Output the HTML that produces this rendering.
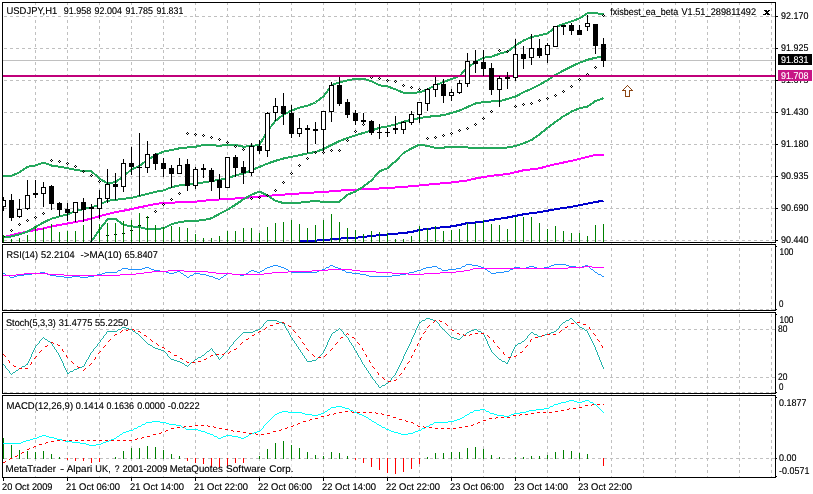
<!DOCTYPE html><html><head><meta charset="utf-8"><title>USDJPY,H1</title><style>html,body{margin:0;padding:0;background:#fff}body{width:813px;height:494px;overflow:hidden}svg{display:block}text{font-family:"Liberation Sans",sans-serif;font-size:9.75px;fill:#000}</style></head><body>
<svg width="813" height="494" viewBox="0 0 813 494">
<rect width="813" height="494" fill="#fff"/>
<g shape-rendering="crispEdges">
<path d="M35.5 3V5M35.5 8V11M35.5 14V17M35.5 20V23M35.5 26V29M35.5 32V35M35.5 38V41M35.5 44V47M35.5 50V53M35.5 56V59M35.5 62V65M35.5 68V71M35.5 74V77M35.5 80V83M35.5 86V89M35.5 92V95M35.5 98V101M35.5 104V107M35.5 110V113M35.5 116V119M35.5 122V125M35.5 128V131M35.5 134V137M35.5 140V143M35.5 146V149M35.5 152V155M35.5 158V161M35.5 164V167M35.5 170V173M35.5 176V179M35.5 182V185M35.5 188V191M35.5 194V197M35.5 200V203M35.5 206V209M35.5 212V215M35.5 218V221M35.5 224V227M35.5 230V233M35.5 236V239M35.5 242V245M35.5 248V251M35.5 254V257M35.5 260V263M35.5 266V269M35.5 272V275M35.5 278V281M35.5 284V287M35.5 290V293M35.5 296V299M35.5 302V305M35.5 308V311M35.5 314V317M35.5 320V323M35.5 326V329M35.5 332V335M35.5 338V341M35.5 344V347M35.5 350V353M35.5 356V359M35.5 362V365M35.5 368V371M35.5 374V377M35.5 380V383M35.5 386V389M35.5 392V395M35.5 398V401M35.5 404V407M35.5 410V413M35.5 416V419M35.5 422V425M35.5 428V431M35.5 434V437M35.5 440V443M35.5 446V449M35.5 452V455M35.5 458V461M35.5 464V467M35.5 470V473M35.5 476V477M67.5 3V5M67.5 8V11M67.5 14V17M67.5 20V23M67.5 26V29M67.5 32V35M67.5 38V41M67.5 44V47M67.5 50V53M67.5 56V59M67.5 62V65M67.5 68V71M67.5 74V77M67.5 80V83M67.5 86V89M67.5 92V95M67.5 98V101M67.5 104V107M67.5 110V113M67.5 116V119M67.5 122V125M67.5 128V131M67.5 134V137M67.5 140V143M67.5 146V149M67.5 152V155M67.5 158V161M67.5 164V167M67.5 170V173M67.5 176V179M67.5 182V185M67.5 188V191M67.5 194V197M67.5 200V203M67.5 206V209M67.5 212V215M67.5 218V221M67.5 224V227M67.5 230V233M67.5 236V239M67.5 242V245M67.5 248V251M67.5 254V257M67.5 260V263M67.5 266V269M67.5 272V275M67.5 278V281M67.5 284V287M67.5 290V293M67.5 296V299M67.5 302V305M67.5 308V311M67.5 314V317M67.5 320V323M67.5 326V329M67.5 332V335M67.5 338V341M67.5 344V347M67.5 350V353M67.5 356V359M67.5 362V365M67.5 368V371M67.5 374V377M67.5 380V383M67.5 386V389M67.5 392V395M67.5 398V401M67.5 404V407M67.5 410V413M67.5 416V419M67.5 422V425M67.5 428V431M67.5 434V437M67.5 440V443M67.5 446V449M67.5 452V455M67.5 458V461M67.5 464V467M67.5 470V473M67.5 476V477M99.5 3V5M99.5 8V11M99.5 14V17M99.5 20V23M99.5 26V29M99.5 32V35M99.5 38V41M99.5 44V47M99.5 50V53M99.5 56V59M99.5 62V65M99.5 68V71M99.5 74V77M99.5 80V83M99.5 86V89M99.5 92V95M99.5 98V101M99.5 104V107M99.5 110V113M99.5 116V119M99.5 122V125M99.5 128V131M99.5 134V137M99.5 140V143M99.5 146V149M99.5 152V155M99.5 158V161M99.5 164V167M99.5 170V173M99.5 176V179M99.5 182V185M99.5 188V191M99.5 194V197M99.5 200V203M99.5 206V209M99.5 212V215M99.5 218V221M99.5 224V227M99.5 230V233M99.5 236V239M99.5 242V245M99.5 248V251M99.5 254V257M99.5 260V263M99.5 266V269M99.5 272V275M99.5 278V281M99.5 284V287M99.5 290V293M99.5 296V299M99.5 302V305M99.5 308V311M99.5 314V317M99.5 320V323M99.5 326V329M99.5 332V335M99.5 338V341M99.5 344V347M99.5 350V353M99.5 356V359M99.5 362V365M99.5 368V371M99.5 374V377M99.5 380V383M99.5 386V389M99.5 392V395M99.5 398V401M99.5 404V407M99.5 410V413M99.5 416V419M99.5 422V425M99.5 428V431M99.5 434V437M99.5 440V443M99.5 446V449M99.5 452V455M99.5 458V461M99.5 464V467M99.5 470V473M99.5 476V477M131.5 3V5M131.5 8V11M131.5 14V17M131.5 20V23M131.5 26V29M131.5 32V35M131.5 38V41M131.5 44V47M131.5 50V53M131.5 56V59M131.5 62V65M131.5 68V71M131.5 74V77M131.5 80V83M131.5 86V89M131.5 92V95M131.5 98V101M131.5 104V107M131.5 110V113M131.5 116V119M131.5 122V125M131.5 128V131M131.5 134V137M131.5 140V143M131.5 146V149M131.5 152V155M131.5 158V161M131.5 164V167M131.5 170V173M131.5 176V179M131.5 182V185M131.5 188V191M131.5 194V197M131.5 200V203M131.5 206V209M131.5 212V215M131.5 218V221M131.5 224V227M131.5 230V233M131.5 236V239M131.5 242V245M131.5 248V251M131.5 254V257M131.5 260V263M131.5 266V269M131.5 272V275M131.5 278V281M131.5 284V287M131.5 290V293M131.5 296V299M131.5 302V305M131.5 308V311M131.5 314V317M131.5 320V323M131.5 326V329M131.5 332V335M131.5 338V341M131.5 344V347M131.5 350V353M131.5 356V359M131.5 362V365M131.5 368V371M131.5 374V377M131.5 380V383M131.5 386V389M131.5 392V395M131.5 398V401M131.5 404V407M131.5 410V413M131.5 416V419M131.5 422V425M131.5 428V431M131.5 434V437M131.5 440V443M131.5 446V449M131.5 452V455M131.5 458V461M131.5 464V467M131.5 470V473M131.5 476V477M163.5 3V5M163.5 8V11M163.5 14V17M163.5 20V23M163.5 26V29M163.5 32V35M163.5 38V41M163.5 44V47M163.5 50V53M163.5 56V59M163.5 62V65M163.5 68V71M163.5 74V77M163.5 80V83M163.5 86V89M163.5 92V95M163.5 98V101M163.5 104V107M163.5 110V113M163.5 116V119M163.5 122V125M163.5 128V131M163.5 134V137M163.5 140V143M163.5 146V149M163.5 152V155M163.5 158V161M163.5 164V167M163.5 170V173M163.5 176V179M163.5 182V185M163.5 188V191M163.5 194V197M163.5 200V203M163.5 206V209M163.5 212V215M163.5 218V221M163.5 224V227M163.5 230V233M163.5 236V239M163.5 242V245M163.5 248V251M163.5 254V257M163.5 260V263M163.5 266V269M163.5 272V275M163.5 278V281M163.5 284V287M163.5 290V293M163.5 296V299M163.5 302V305M163.5 308V311M163.5 314V317M163.5 320V323M163.5 326V329M163.5 332V335M163.5 338V341M163.5 344V347M163.5 350V353M163.5 356V359M163.5 362V365M163.5 368V371M163.5 374V377M163.5 380V383M163.5 386V389M163.5 392V395M163.5 398V401M163.5 404V407M163.5 410V413M163.5 416V419M163.5 422V425M163.5 428V431M163.5 434V437M163.5 440V443M163.5 446V449M163.5 452V455M163.5 458V461M163.5 464V467M163.5 470V473M163.5 476V477M195.5 3V5M195.5 8V11M195.5 14V17M195.5 20V23M195.5 26V29M195.5 32V35M195.5 38V41M195.5 44V47M195.5 50V53M195.5 56V59M195.5 62V65M195.5 68V71M195.5 74V77M195.5 80V83M195.5 86V89M195.5 92V95M195.5 98V101M195.5 104V107M195.5 110V113M195.5 116V119M195.5 122V125M195.5 128V131M195.5 134V137M195.5 140V143M195.5 146V149M195.5 152V155M195.5 158V161M195.5 164V167M195.5 170V173M195.5 176V179M195.5 182V185M195.5 188V191M195.5 194V197M195.5 200V203M195.5 206V209M195.5 212V215M195.5 218V221M195.5 224V227M195.5 230V233M195.5 236V239M195.5 242V245M195.5 248V251M195.5 254V257M195.5 260V263M195.5 266V269M195.5 272V275M195.5 278V281M195.5 284V287M195.5 290V293M195.5 296V299M195.5 302V305M195.5 308V311M195.5 314V317M195.5 320V323M195.5 326V329M195.5 332V335M195.5 338V341M195.5 344V347M195.5 350V353M195.5 356V359M195.5 362V365M195.5 368V371M195.5 374V377M195.5 380V383M195.5 386V389M195.5 392V395M195.5 398V401M195.5 404V407M195.5 410V413M195.5 416V419M195.5 422V425M195.5 428V431M195.5 434V437M195.5 440V443M195.5 446V449M195.5 452V455M195.5 458V461M195.5 464V467M195.5 470V473M195.5 476V477M227.5 3V5M227.5 8V11M227.5 14V17M227.5 20V23M227.5 26V29M227.5 32V35M227.5 38V41M227.5 44V47M227.5 50V53M227.5 56V59M227.5 62V65M227.5 68V71M227.5 74V77M227.5 80V83M227.5 86V89M227.5 92V95M227.5 98V101M227.5 104V107M227.5 110V113M227.5 116V119M227.5 122V125M227.5 128V131M227.5 134V137M227.5 140V143M227.5 146V149M227.5 152V155M227.5 158V161M227.5 164V167M227.5 170V173M227.5 176V179M227.5 182V185M227.5 188V191M227.5 194V197M227.5 200V203M227.5 206V209M227.5 212V215M227.5 218V221M227.5 224V227M227.5 230V233M227.5 236V239M227.5 242V245M227.5 248V251M227.5 254V257M227.5 260V263M227.5 266V269M227.5 272V275M227.5 278V281M227.5 284V287M227.5 290V293M227.5 296V299M227.5 302V305M227.5 308V311M227.5 314V317M227.5 320V323M227.5 326V329M227.5 332V335M227.5 338V341M227.5 344V347M227.5 350V353M227.5 356V359M227.5 362V365M227.5 368V371M227.5 374V377M227.5 380V383M227.5 386V389M227.5 392V395M227.5 398V401M227.5 404V407M227.5 410V413M227.5 416V419M227.5 422V425M227.5 428V431M227.5 434V437M227.5 440V443M227.5 446V449M227.5 452V455M227.5 458V461M227.5 464V467M227.5 470V473M227.5 476V477M259.5 3V5M259.5 8V11M259.5 14V17M259.5 20V23M259.5 26V29M259.5 32V35M259.5 38V41M259.5 44V47M259.5 50V53M259.5 56V59M259.5 62V65M259.5 68V71M259.5 74V77M259.5 80V83M259.5 86V89M259.5 92V95M259.5 98V101M259.5 104V107M259.5 110V113M259.5 116V119M259.5 122V125M259.5 128V131M259.5 134V137M259.5 140V143M259.5 146V149M259.5 152V155M259.5 158V161M259.5 164V167M259.5 170V173M259.5 176V179M259.5 182V185M259.5 188V191M259.5 194V197M259.5 200V203M259.5 206V209M259.5 212V215M259.5 218V221M259.5 224V227M259.5 230V233M259.5 236V239M259.5 242V245M259.5 248V251M259.5 254V257M259.5 260V263M259.5 266V269M259.5 272V275M259.5 278V281M259.5 284V287M259.5 290V293M259.5 296V299M259.5 302V305M259.5 308V311M259.5 314V317M259.5 320V323M259.5 326V329M259.5 332V335M259.5 338V341M259.5 344V347M259.5 350V353M259.5 356V359M259.5 362V365M259.5 368V371M259.5 374V377M259.5 380V383M259.5 386V389M259.5 392V395M259.5 398V401M259.5 404V407M259.5 410V413M259.5 416V419M259.5 422V425M259.5 428V431M259.5 434V437M259.5 440V443M259.5 446V449M259.5 452V455M259.5 458V461M259.5 464V467M259.5 470V473M259.5 476V477M291.5 3V5M291.5 8V11M291.5 14V17M291.5 20V23M291.5 26V29M291.5 32V35M291.5 38V41M291.5 44V47M291.5 50V53M291.5 56V59M291.5 62V65M291.5 68V71M291.5 74V77M291.5 80V83M291.5 86V89M291.5 92V95M291.5 98V101M291.5 104V107M291.5 110V113M291.5 116V119M291.5 122V125M291.5 128V131M291.5 134V137M291.5 140V143M291.5 146V149M291.5 152V155M291.5 158V161M291.5 164V167M291.5 170V173M291.5 176V179M291.5 182V185M291.5 188V191M291.5 194V197M291.5 200V203M291.5 206V209M291.5 212V215M291.5 218V221M291.5 224V227M291.5 230V233M291.5 236V239M291.5 242V245M291.5 248V251M291.5 254V257M291.5 260V263M291.5 266V269M291.5 272V275M291.5 278V281M291.5 284V287M291.5 290V293M291.5 296V299M291.5 302V305M291.5 308V311M291.5 314V317M291.5 320V323M291.5 326V329M291.5 332V335M291.5 338V341M291.5 344V347M291.5 350V353M291.5 356V359M291.5 362V365M291.5 368V371M291.5 374V377M291.5 380V383M291.5 386V389M291.5 392V395M291.5 398V401M291.5 404V407M291.5 410V413M291.5 416V419M291.5 422V425M291.5 428V431M291.5 434V437M291.5 440V443M291.5 446V449M291.5 452V455M291.5 458V461M291.5 464V467M291.5 470V473M291.5 476V477M323.5 3V5M323.5 8V11M323.5 14V17M323.5 20V23M323.5 26V29M323.5 32V35M323.5 38V41M323.5 44V47M323.5 50V53M323.5 56V59M323.5 62V65M323.5 68V71M323.5 74V77M323.5 80V83M323.5 86V89M323.5 92V95M323.5 98V101M323.5 104V107M323.5 110V113M323.5 116V119M323.5 122V125M323.5 128V131M323.5 134V137M323.5 140V143M323.5 146V149M323.5 152V155M323.5 158V161M323.5 164V167M323.5 170V173M323.5 176V179M323.5 182V185M323.5 188V191M323.5 194V197M323.5 200V203M323.5 206V209M323.5 212V215M323.5 218V221M323.5 224V227M323.5 230V233M323.5 236V239M323.5 242V245M323.5 248V251M323.5 254V257M323.5 260V263M323.5 266V269M323.5 272V275M323.5 278V281M323.5 284V287M323.5 290V293M323.5 296V299M323.5 302V305M323.5 308V311M323.5 314V317M323.5 320V323M323.5 326V329M323.5 332V335M323.5 338V341M323.5 344V347M323.5 350V353M323.5 356V359M323.5 362V365M323.5 368V371M323.5 374V377M323.5 380V383M323.5 386V389M323.5 392V395M323.5 398V401M323.5 404V407M323.5 410V413M323.5 416V419M323.5 422V425M323.5 428V431M323.5 434V437M323.5 440V443M323.5 446V449M323.5 452V455M323.5 458V461M323.5 464V467M323.5 470V473M323.5 476V477M355.5 3V5M355.5 8V11M355.5 14V17M355.5 20V23M355.5 26V29M355.5 32V35M355.5 38V41M355.5 44V47M355.5 50V53M355.5 56V59M355.5 62V65M355.5 68V71M355.5 74V77M355.5 80V83M355.5 86V89M355.5 92V95M355.5 98V101M355.5 104V107M355.5 110V113M355.5 116V119M355.5 122V125M355.5 128V131M355.5 134V137M355.5 140V143M355.5 146V149M355.5 152V155M355.5 158V161M355.5 164V167M355.5 170V173M355.5 176V179M355.5 182V185M355.5 188V191M355.5 194V197M355.5 200V203M355.5 206V209M355.5 212V215M355.5 218V221M355.5 224V227M355.5 230V233M355.5 236V239M355.5 242V245M355.5 248V251M355.5 254V257M355.5 260V263M355.5 266V269M355.5 272V275M355.5 278V281M355.5 284V287M355.5 290V293M355.5 296V299M355.5 302V305M355.5 308V311M355.5 314V317M355.5 320V323M355.5 326V329M355.5 332V335M355.5 338V341M355.5 344V347M355.5 350V353M355.5 356V359M355.5 362V365M355.5 368V371M355.5 374V377M355.5 380V383M355.5 386V389M355.5 392V395M355.5 398V401M355.5 404V407M355.5 410V413M355.5 416V419M355.5 422V425M355.5 428V431M355.5 434V437M355.5 440V443M355.5 446V449M355.5 452V455M355.5 458V461M355.5 464V467M355.5 470V473M355.5 476V477M387.5 3V5M387.5 8V11M387.5 14V17M387.5 20V23M387.5 26V29M387.5 32V35M387.5 38V41M387.5 44V47M387.5 50V53M387.5 56V59M387.5 62V65M387.5 68V71M387.5 74V77M387.5 80V83M387.5 86V89M387.5 92V95M387.5 98V101M387.5 104V107M387.5 110V113M387.5 116V119M387.5 122V125M387.5 128V131M387.5 134V137M387.5 140V143M387.5 146V149M387.5 152V155M387.5 158V161M387.5 164V167M387.5 170V173M387.5 176V179M387.5 182V185M387.5 188V191M387.5 194V197M387.5 200V203M387.5 206V209M387.5 212V215M387.5 218V221M387.5 224V227M387.5 230V233M387.5 236V239M387.5 242V245M387.5 248V251M387.5 254V257M387.5 260V263M387.5 266V269M387.5 272V275M387.5 278V281M387.5 284V287M387.5 290V293M387.5 296V299M387.5 302V305M387.5 308V311M387.5 314V317M387.5 320V323M387.5 326V329M387.5 332V335M387.5 338V341M387.5 344V347M387.5 350V353M387.5 356V359M387.5 362V365M387.5 368V371M387.5 374V377M387.5 380V383M387.5 386V389M387.5 392V395M387.5 398V401M387.5 404V407M387.5 410V413M387.5 416V419M387.5 422V425M387.5 428V431M387.5 434V437M387.5 440V443M387.5 446V449M387.5 452V455M387.5 458V461M387.5 464V467M387.5 470V473M387.5 476V477M419.5 3V5M419.5 8V11M419.5 14V17M419.5 20V23M419.5 26V29M419.5 32V35M419.5 38V41M419.5 44V47M419.5 50V53M419.5 56V59M419.5 62V65M419.5 68V71M419.5 74V77M419.5 80V83M419.5 86V89M419.5 92V95M419.5 98V101M419.5 104V107M419.5 110V113M419.5 116V119M419.5 122V125M419.5 128V131M419.5 134V137M419.5 140V143M419.5 146V149M419.5 152V155M419.5 158V161M419.5 164V167M419.5 170V173M419.5 176V179M419.5 182V185M419.5 188V191M419.5 194V197M419.5 200V203M419.5 206V209M419.5 212V215M419.5 218V221M419.5 224V227M419.5 230V233M419.5 236V239M419.5 242V245M419.5 248V251M419.5 254V257M419.5 260V263M419.5 266V269M419.5 272V275M419.5 278V281M419.5 284V287M419.5 290V293M419.5 296V299M419.5 302V305M419.5 308V311M419.5 314V317M419.5 320V323M419.5 326V329M419.5 332V335M419.5 338V341M419.5 344V347M419.5 350V353M419.5 356V359M419.5 362V365M419.5 368V371M419.5 374V377M419.5 380V383M419.5 386V389M419.5 392V395M419.5 398V401M419.5 404V407M419.5 410V413M419.5 416V419M419.5 422V425M419.5 428V431M419.5 434V437M419.5 440V443M419.5 446V449M419.5 452V455M419.5 458V461M419.5 464V467M419.5 470V473M419.5 476V477M451.5 3V5M451.5 8V11M451.5 14V17M451.5 20V23M451.5 26V29M451.5 32V35M451.5 38V41M451.5 44V47M451.5 50V53M451.5 56V59M451.5 62V65M451.5 68V71M451.5 74V77M451.5 80V83M451.5 86V89M451.5 92V95M451.5 98V101M451.5 104V107M451.5 110V113M451.5 116V119M451.5 122V125M451.5 128V131M451.5 134V137M451.5 140V143M451.5 146V149M451.5 152V155M451.5 158V161M451.5 164V167M451.5 170V173M451.5 176V179M451.5 182V185M451.5 188V191M451.5 194V197M451.5 200V203M451.5 206V209M451.5 212V215M451.5 218V221M451.5 224V227M451.5 230V233M451.5 236V239M451.5 242V245M451.5 248V251M451.5 254V257M451.5 260V263M451.5 266V269M451.5 272V275M451.5 278V281M451.5 284V287M451.5 290V293M451.5 296V299M451.5 302V305M451.5 308V311M451.5 314V317M451.5 320V323M451.5 326V329M451.5 332V335M451.5 338V341M451.5 344V347M451.5 350V353M451.5 356V359M451.5 362V365M451.5 368V371M451.5 374V377M451.5 380V383M451.5 386V389M451.5 392V395M451.5 398V401M451.5 404V407M451.5 410V413M451.5 416V419M451.5 422V425M451.5 428V431M451.5 434V437M451.5 440V443M451.5 446V449M451.5 452V455M451.5 458V461M451.5 464V467M451.5 470V473M451.5 476V477M483.5 3V5M483.5 8V11M483.5 14V17M483.5 20V23M483.5 26V29M483.5 32V35M483.5 38V41M483.5 44V47M483.5 50V53M483.5 56V59M483.5 62V65M483.5 68V71M483.5 74V77M483.5 80V83M483.5 86V89M483.5 92V95M483.5 98V101M483.5 104V107M483.5 110V113M483.5 116V119M483.5 122V125M483.5 128V131M483.5 134V137M483.5 140V143M483.5 146V149M483.5 152V155M483.5 158V161M483.5 164V167M483.5 170V173M483.5 176V179M483.5 182V185M483.5 188V191M483.5 194V197M483.5 200V203M483.5 206V209M483.5 212V215M483.5 218V221M483.5 224V227M483.5 230V233M483.5 236V239M483.5 242V245M483.5 248V251M483.5 254V257M483.5 260V263M483.5 266V269M483.5 272V275M483.5 278V281M483.5 284V287M483.5 290V293M483.5 296V299M483.5 302V305M483.5 308V311M483.5 314V317M483.5 320V323M483.5 326V329M483.5 332V335M483.5 338V341M483.5 344V347M483.5 350V353M483.5 356V359M483.5 362V365M483.5 368V371M483.5 374V377M483.5 380V383M483.5 386V389M483.5 392V395M483.5 398V401M483.5 404V407M483.5 410V413M483.5 416V419M483.5 422V425M483.5 428V431M483.5 434V437M483.5 440V443M483.5 446V449M483.5 452V455M483.5 458V461M483.5 464V467M483.5 470V473M483.5 476V477M515.5 3V5M515.5 8V11M515.5 14V17M515.5 20V23M515.5 26V29M515.5 32V35M515.5 38V41M515.5 44V47M515.5 50V53M515.5 56V59M515.5 62V65M515.5 68V71M515.5 74V77M515.5 80V83M515.5 86V89M515.5 92V95M515.5 98V101M515.5 104V107M515.5 110V113M515.5 116V119M515.5 122V125M515.5 128V131M515.5 134V137M515.5 140V143M515.5 146V149M515.5 152V155M515.5 158V161M515.5 164V167M515.5 170V173M515.5 176V179M515.5 182V185M515.5 188V191M515.5 194V197M515.5 200V203M515.5 206V209M515.5 212V215M515.5 218V221M515.5 224V227M515.5 230V233M515.5 236V239M515.5 242V245M515.5 248V251M515.5 254V257M515.5 260V263M515.5 266V269M515.5 272V275M515.5 278V281M515.5 284V287M515.5 290V293M515.5 296V299M515.5 302V305M515.5 308V311M515.5 314V317M515.5 320V323M515.5 326V329M515.5 332V335M515.5 338V341M515.5 344V347M515.5 350V353M515.5 356V359M515.5 362V365M515.5 368V371M515.5 374V377M515.5 380V383M515.5 386V389M515.5 392V395M515.5 398V401M515.5 404V407M515.5 410V413M515.5 416V419M515.5 422V425M515.5 428V431M515.5 434V437M515.5 440V443M515.5 446V449M515.5 452V455M515.5 458V461M515.5 464V467M515.5 470V473M515.5 476V477M547.5 3V5M547.5 8V11M547.5 14V17M547.5 20V23M547.5 26V29M547.5 32V35M547.5 38V41M547.5 44V47M547.5 50V53M547.5 56V59M547.5 62V65M547.5 68V71M547.5 74V77M547.5 80V83M547.5 86V89M547.5 92V95M547.5 98V101M547.5 104V107M547.5 110V113M547.5 116V119M547.5 122V125M547.5 128V131M547.5 134V137M547.5 140V143M547.5 146V149M547.5 152V155M547.5 158V161M547.5 164V167M547.5 170V173M547.5 176V179M547.5 182V185M547.5 188V191M547.5 194V197M547.5 200V203M547.5 206V209M547.5 212V215M547.5 218V221M547.5 224V227M547.5 230V233M547.5 236V239M547.5 242V245M547.5 248V251M547.5 254V257M547.5 260V263M547.5 266V269M547.5 272V275M547.5 278V281M547.5 284V287M547.5 290V293M547.5 296V299M547.5 302V305M547.5 308V311M547.5 314V317M547.5 320V323M547.5 326V329M547.5 332V335M547.5 338V341M547.5 344V347M547.5 350V353M547.5 356V359M547.5 362V365M547.5 368V371M547.5 374V377M547.5 380V383M547.5 386V389M547.5 392V395M547.5 398V401M547.5 404V407M547.5 410V413M547.5 416V419M547.5 422V425M547.5 428V431M547.5 434V437M547.5 440V443M547.5 446V449M547.5 452V455M547.5 458V461M547.5 464V467M547.5 470V473M547.5 476V477M579.5 3V5M579.5 8V11M579.5 14V17M579.5 20V23M579.5 26V29M579.5 32V35M579.5 38V41M579.5 44V47M579.5 50V53M579.5 56V59M579.5 62V65M579.5 68V71M579.5 74V77M579.5 80V83M579.5 86V89M579.5 92V95M579.5 98V101M579.5 104V107M579.5 110V113M579.5 116V119M579.5 122V125M579.5 128V131M579.5 134V137M579.5 140V143M579.5 146V149M579.5 152V155M579.5 158V161M579.5 164V167M579.5 170V173M579.5 176V179M579.5 182V185M579.5 188V191M579.5 194V197M579.5 200V203M579.5 206V209M579.5 212V215M579.5 218V221M579.5 224V227M579.5 230V233M579.5 236V239M579.5 242V245M579.5 248V251M579.5 254V257M579.5 260V263M579.5 266V269M579.5 272V275M579.5 278V281M579.5 284V287M579.5 290V293M579.5 296V299M579.5 302V305M579.5 308V311M579.5 314V317M579.5 320V323M579.5 326V329M579.5 332V335M579.5 338V341M579.5 344V347M579.5 350V353M579.5 356V359M579.5 362V365M579.5 368V371M579.5 374V377M579.5 380V383M579.5 386V389M579.5 392V395M579.5 398V401M579.5 404V407M579.5 410V413M579.5 416V419M579.5 422V425M579.5 428V431M579.5 434V437M579.5 440V443M579.5 446V449M579.5 452V455M579.5 458V461M579.5 464V467M579.5 470V473M579.5 476V477M611.5 3V5M611.5 8V11M611.5 14V17M611.5 20V23M611.5 26V29M611.5 32V35M611.5 38V41M611.5 44V47M611.5 50V53M611.5 56V59M611.5 62V65M611.5 68V71M611.5 74V77M611.5 80V83M611.5 86V89M611.5 92V95M611.5 98V101M611.5 104V107M611.5 110V113M611.5 116V119M611.5 122V125M611.5 128V131M611.5 134V137M611.5 140V143M611.5 146V149M611.5 152V155M611.5 158V161M611.5 164V167M611.5 170V173M611.5 176V179M611.5 182V185M611.5 188V191M611.5 194V197M611.5 200V203M611.5 206V209M611.5 212V215M611.5 218V221M611.5 224V227M611.5 230V233M611.5 236V239M611.5 242V245M611.5 248V251M611.5 254V257M611.5 260V263M611.5 266V269M611.5 272V275M611.5 278V281M611.5 284V287M611.5 290V293M611.5 296V299M611.5 302V305M611.5 308V311M611.5 314V317M611.5 320V323M611.5 326V329M611.5 332V335M611.5 338V341M611.5 344V347M611.5 350V353M611.5 356V359M611.5 362V365M611.5 368V371M611.5 374V377M611.5 380V383M611.5 386V389M611.5 392V395M611.5 398V401M611.5 404V407M611.5 410V413M611.5 416V419M611.5 422V425M611.5 428V431M611.5 434V437M611.5 440V443M611.5 446V449M611.5 452V455M611.5 458V461M611.5 464V467M611.5 470V473M611.5 476V477M643.5 3V5M643.5 8V11M643.5 14V17M643.5 20V23M643.5 26V29M643.5 32V35M643.5 38V41M643.5 44V47M643.5 50V53M643.5 56V59M643.5 62V65M643.5 68V71M643.5 74V77M643.5 80V83M643.5 86V89M643.5 92V95M643.5 98V101M643.5 104V107M643.5 110V113M643.5 116V119M643.5 122V125M643.5 128V131M643.5 134V137M643.5 140V143M643.5 146V149M643.5 152V155M643.5 158V161M643.5 164V167M643.5 170V173M643.5 176V179M643.5 182V185M643.5 188V191M643.5 194V197M643.5 200V203M643.5 206V209M643.5 212V215M643.5 218V221M643.5 224V227M643.5 230V233M643.5 236V239M643.5 242V245M643.5 248V251M643.5 254V257M643.5 260V263M643.5 266V269M643.5 272V275M643.5 278V281M643.5 284V287M643.5 290V293M643.5 296V299M643.5 302V305M643.5 308V311M643.5 314V317M643.5 320V323M643.5 326V329M643.5 332V335M643.5 338V341M643.5 344V347M643.5 350V353M643.5 356V359M643.5 362V365M643.5 368V371M643.5 374V377M643.5 380V383M643.5 386V389M643.5 392V395M643.5 398V401M643.5 404V407M643.5 410V413M643.5 416V419M643.5 422V425M643.5 428V431M643.5 434V437M643.5 440V443M643.5 446V449M643.5 452V455M643.5 458V461M643.5 464V467M643.5 470V473M643.5 476V477M675.5 3V5M675.5 8V11M675.5 14V17M675.5 20V23M675.5 26V29M675.5 32V35M675.5 38V41M675.5 44V47M675.5 50V53M675.5 56V59M675.5 62V65M675.5 68V71M675.5 74V77M675.5 80V83M675.5 86V89M675.5 92V95M675.5 98V101M675.5 104V107M675.5 110V113M675.5 116V119M675.5 122V125M675.5 128V131M675.5 134V137M675.5 140V143M675.5 146V149M675.5 152V155M675.5 158V161M675.5 164V167M675.5 170V173M675.5 176V179M675.5 182V185M675.5 188V191M675.5 194V197M675.5 200V203M675.5 206V209M675.5 212V215M675.5 218V221M675.5 224V227M675.5 230V233M675.5 236V239M675.5 242V245M675.5 248V251M675.5 254V257M675.5 260V263M675.5 266V269M675.5 272V275M675.5 278V281M675.5 284V287M675.5 290V293M675.5 296V299M675.5 302V305M675.5 308V311M675.5 314V317M675.5 320V323M675.5 326V329M675.5 332V335M675.5 338V341M675.5 344V347M675.5 350V353M675.5 356V359M675.5 362V365M675.5 368V371M675.5 374V377M675.5 380V383M675.5 386V389M675.5 392V395M675.5 398V401M675.5 404V407M675.5 410V413M675.5 416V419M675.5 422V425M675.5 428V431M675.5 434V437M675.5 440V443M675.5 446V449M675.5 452V455M675.5 458V461M675.5 464V467M675.5 470V473M675.5 476V477M707.5 3V5M707.5 8V11M707.5 14V17M707.5 20V23M707.5 26V29M707.5 32V35M707.5 38V41M707.5 44V47M707.5 50V53M707.5 56V59M707.5 62V65M707.5 68V71M707.5 74V77M707.5 80V83M707.5 86V89M707.5 92V95M707.5 98V101M707.5 104V107M707.5 110V113M707.5 116V119M707.5 122V125M707.5 128V131M707.5 134V137M707.5 140V143M707.5 146V149M707.5 152V155M707.5 158V161M707.5 164V167M707.5 170V173M707.5 176V179M707.5 182V185M707.5 188V191M707.5 194V197M707.5 200V203M707.5 206V209M707.5 212V215M707.5 218V221M707.5 224V227M707.5 230V233M707.5 236V239M707.5 242V245M707.5 248V251M707.5 254V257M707.5 260V263M707.5 266V269M707.5 272V275M707.5 278V281M707.5 284V287M707.5 290V293M707.5 296V299M707.5 302V305M707.5 308V311M707.5 314V317M707.5 320V323M707.5 326V329M707.5 332V335M707.5 338V341M707.5 344V347M707.5 350V353M707.5 356V359M707.5 362V365M707.5 368V371M707.5 374V377M707.5 380V383M707.5 386V389M707.5 392V395M707.5 398V401M707.5 404V407M707.5 410V413M707.5 416V419M707.5 422V425M707.5 428V431M707.5 434V437M707.5 440V443M707.5 446V449M707.5 452V455M707.5 458V461M707.5 464V467M707.5 470V473M707.5 476V477M739.5 3V5M739.5 8V11M739.5 14V17M739.5 20V23M739.5 26V29M739.5 32V35M739.5 38V41M739.5 44V47M739.5 50V53M739.5 56V59M739.5 62V65M739.5 68V71M739.5 74V77M739.5 80V83M739.5 86V89M739.5 92V95M739.5 98V101M739.5 104V107M739.5 110V113M739.5 116V119M739.5 122V125M739.5 128V131M739.5 134V137M739.5 140V143M739.5 146V149M739.5 152V155M739.5 158V161M739.5 164V167M739.5 170V173M739.5 176V179M739.5 182V185M739.5 188V191M739.5 194V197M739.5 200V203M739.5 206V209M739.5 212V215M739.5 218V221M739.5 224V227M739.5 230V233M739.5 236V239M739.5 242V245M739.5 248V251M739.5 254V257M739.5 260V263M739.5 266V269M739.5 272V275M739.5 278V281M739.5 284V287M739.5 290V293M739.5 296V299M739.5 302V305M739.5 308V311M739.5 314V317M739.5 320V323M739.5 326V329M739.5 332V335M739.5 338V341M739.5 344V347M739.5 350V353M739.5 356V359M739.5 362V365M739.5 368V371M739.5 374V377M739.5 380V383M739.5 386V389M739.5 392V395M739.5 398V401M739.5 404V407M739.5 410V413M739.5 416V419M739.5 422V425M739.5 428V431M739.5 434V437M739.5 440V443M739.5 446V449M739.5 452V455M739.5 458V461M739.5 464V467M739.5 470V473M739.5 476V477M771.5 3V5M771.5 8V11M771.5 14V17M771.5 20V23M771.5 26V29M771.5 32V35M771.5 38V41M771.5 44V47M771.5 50V53M771.5 56V59M771.5 62V65M771.5 68V71M771.5 74V77M771.5 80V83M771.5 86V89M771.5 92V95M771.5 98V101M771.5 104V107M771.5 110V113M771.5 116V119M771.5 122V125M771.5 128V131M771.5 134V137M771.5 140V143M771.5 146V149M771.5 152V155M771.5 158V161M771.5 164V167M771.5 170V173M771.5 176V179M771.5 182V185M771.5 188V191M771.5 194V197M771.5 200V203M771.5 206V209M771.5 212V215M771.5 218V221M771.5 224V227M771.5 230V233M771.5 236V239M771.5 242V245M771.5 248V251M771.5 254V257M771.5 260V263M771.5 266V269M771.5 272V275M771.5 278V281M771.5 284V287M771.5 290V293M771.5 296V299M771.5 302V305M771.5 308V311M771.5 314V317M771.5 320V323M771.5 326V329M771.5 332V335M771.5 338V341M771.5 344V347M771.5 350V353M771.5 356V359M771.5 362V365M771.5 368V371M771.5 374V377M771.5 380V383M771.5 386V389M771.5 392V395M771.5 398V401M771.5 404V407M771.5 410V413M771.5 416V419M771.5 422V425M771.5 428V431M771.5 434V437M771.5 440V443M771.5 446V449M771.5 452V455M771.5 458V461M771.5 464V467M771.5 470V473M771.5 476V477M4 16.5H7M10 16.5H13M16 16.5H19M22 16.5H25M28 16.5H31M34 16.5H37M40 16.5H43M46 16.5H49M52 16.5H55M58 16.5H61M64 16.5H67M70 16.5H73M76 16.5H79M82 16.5H85M88 16.5H91M94 16.5H97M100 16.5H103M106 16.5H109M112 16.5H115M118 16.5H121M124 16.5H127M130 16.5H133M136 16.5H139M142 16.5H145M148 16.5H151M154 16.5H157M160 16.5H163M166 16.5H169M172 16.5H175M178 16.5H181M184 16.5H187M190 16.5H193M196 16.5H199M202 16.5H205M208 16.5H211M214 16.5H217M220 16.5H223M226 16.5H229M232 16.5H235M238 16.5H241M244 16.5H247M250 16.5H253M256 16.5H259M262 16.5H265M268 16.5H271M274 16.5H277M280 16.5H283M286 16.5H289M292 16.5H295M298 16.5H301M304 16.5H307M310 16.5H313M316 16.5H319M322 16.5H325M328 16.5H331M334 16.5H337M340 16.5H343M346 16.5H349M352 16.5H355M358 16.5H361M364 16.5H367M370 16.5H373M376 16.5H379M382 16.5H385M388 16.5H391M394 16.5H397M400 16.5H403M406 16.5H409M412 16.5H415M418 16.5H421M424 16.5H427M430 16.5H433M436 16.5H439M442 16.5H445M448 16.5H451M454 16.5H457M460 16.5H463M466 16.5H469M472 16.5H475M478 16.5H481M484 16.5H487M490 16.5H493M496 16.5H499M502 16.5H505M508 16.5H511M514 16.5H517M520 16.5H523M526 16.5H529M532 16.5H535M538 16.5H541M544 16.5H547M550 16.5H553M556 16.5H559M562 16.5H565M568 16.5H571M574 16.5H577M580 16.5H583M586 16.5H589M592 16.5H595M598 16.5H601M604 16.5H607M610 16.5H613M616 16.5H619M622 16.5H625M628 16.5H631M634 16.5H637M640 16.5H643M646 16.5H649M652 16.5H655M658 16.5H661M664 16.5H667M670 16.5H673M676 16.5H679M682 16.5H685M688 16.5H691M694 16.5H697M700 16.5H703M706 16.5H709M712 16.5H715M718 16.5H721M724 16.5H727M730 16.5H733M736 16.5H739M742 16.5H745M748 16.5H751M754 16.5H757M760 16.5H763M766 16.5H769M772 16.5H775M4 48.5H7M10 48.5H13M16 48.5H19M22 48.5H25M28 48.5H31M34 48.5H37M40 48.5H43M46 48.5H49M52 48.5H55M58 48.5H61M64 48.5H67M70 48.5H73M76 48.5H79M82 48.5H85M88 48.5H91M94 48.5H97M100 48.5H103M106 48.5H109M112 48.5H115M118 48.5H121M124 48.5H127M130 48.5H133M136 48.5H139M142 48.5H145M148 48.5H151M154 48.5H157M160 48.5H163M166 48.5H169M172 48.5H175M178 48.5H181M184 48.5H187M190 48.5H193M196 48.5H199M202 48.5H205M208 48.5H211M214 48.5H217M220 48.5H223M226 48.5H229M232 48.5H235M238 48.5H241M244 48.5H247M250 48.5H253M256 48.5H259M262 48.5H265M268 48.5H271M274 48.5H277M280 48.5H283M286 48.5H289M292 48.5H295M298 48.5H301M304 48.5H307M310 48.5H313M316 48.5H319M322 48.5H325M328 48.5H331M334 48.5H337M340 48.5H343M346 48.5H349M352 48.5H355M358 48.5H361M364 48.5H367M370 48.5H373M376 48.5H379M382 48.5H385M388 48.5H391M394 48.5H397M400 48.5H403M406 48.5H409M412 48.5H415M418 48.5H421M424 48.5H427M430 48.5H433M436 48.5H439M442 48.5H445M448 48.5H451M454 48.5H457M460 48.5H463M466 48.5H469M472 48.5H475M478 48.5H481M484 48.5H487M490 48.5H493M496 48.5H499M502 48.5H505M508 48.5H511M514 48.5H517M520 48.5H523M526 48.5H529M532 48.5H535M538 48.5H541M544 48.5H547M550 48.5H553M556 48.5H559M562 48.5H565M568 48.5H571M574 48.5H577M580 48.5H583M586 48.5H589M592 48.5H595M598 48.5H601M604 48.5H607M610 48.5H613M616 48.5H619M622 48.5H625M628 48.5H631M634 48.5H637M640 48.5H643M646 48.5H649M652 48.5H655M658 48.5H661M664 48.5H667M670 48.5H673M676 48.5H679M682 48.5H685M688 48.5H691M694 48.5H697M700 48.5H703M706 48.5H709M712 48.5H715M718 48.5H721M724 48.5H727M730 48.5H733M736 48.5H739M742 48.5H745M748 48.5H751M754 48.5H757M760 48.5H763M766 48.5H769M772 48.5H775M4 80.5H7M10 80.5H13M16 80.5H19M22 80.5H25M28 80.5H31M34 80.5H37M40 80.5H43M46 80.5H49M52 80.5H55M58 80.5H61M64 80.5H67M70 80.5H73M76 80.5H79M82 80.5H85M88 80.5H91M94 80.5H97M100 80.5H103M106 80.5H109M112 80.5H115M118 80.5H121M124 80.5H127M130 80.5H133M136 80.5H139M142 80.5H145M148 80.5H151M154 80.5H157M160 80.5H163M166 80.5H169M172 80.5H175M178 80.5H181M184 80.5H187M190 80.5H193M196 80.5H199M202 80.5H205M208 80.5H211M214 80.5H217M220 80.5H223M226 80.5H229M232 80.5H235M238 80.5H241M244 80.5H247M250 80.5H253M256 80.5H259M262 80.5H265M268 80.5H271M274 80.5H277M280 80.5H283M286 80.5H289M292 80.5H295M298 80.5H301M304 80.5H307M310 80.5H313M316 80.5H319M322 80.5H325M328 80.5H331M334 80.5H337M340 80.5H343M346 80.5H349M352 80.5H355M358 80.5H361M364 80.5H367M370 80.5H373M376 80.5H379M382 80.5H385M388 80.5H391M394 80.5H397M400 80.5H403M406 80.5H409M412 80.5H415M418 80.5H421M424 80.5H427M430 80.5H433M436 80.5H439M442 80.5H445M448 80.5H451M454 80.5H457M460 80.5H463M466 80.5H469M472 80.5H475M478 80.5H481M484 80.5H487M490 80.5H493M496 80.5H499M502 80.5H505M508 80.5H511M514 80.5H517M520 80.5H523M526 80.5H529M532 80.5H535M538 80.5H541M544 80.5H547M550 80.5H553M556 80.5H559M562 80.5H565M568 80.5H571M574 80.5H577M580 80.5H583M586 80.5H589M592 80.5H595M598 80.5H601M604 80.5H607M610 80.5H613M616 80.5H619M622 80.5H625M628 80.5H631M634 80.5H637M640 80.5H643M646 80.5H649M652 80.5H655M658 80.5H661M664 80.5H667M670 80.5H673M676 80.5H679M682 80.5H685M688 80.5H691M694 80.5H697M700 80.5H703M706 80.5H709M712 80.5H715M718 80.5H721M724 80.5H727M730 80.5H733M736 80.5H739M742 80.5H745M748 80.5H751M754 80.5H757M760 80.5H763M766 80.5H769M772 80.5H775M4 112.5H7M10 112.5H13M16 112.5H19M22 112.5H25M28 112.5H31M34 112.5H37M40 112.5H43M46 112.5H49M52 112.5H55M58 112.5H61M64 112.5H67M70 112.5H73M76 112.5H79M82 112.5H85M88 112.5H91M94 112.5H97M100 112.5H103M106 112.5H109M112 112.5H115M118 112.5H121M124 112.5H127M130 112.5H133M136 112.5H139M142 112.5H145M148 112.5H151M154 112.5H157M160 112.5H163M166 112.5H169M172 112.5H175M178 112.5H181M184 112.5H187M190 112.5H193M196 112.5H199M202 112.5H205M208 112.5H211M214 112.5H217M220 112.5H223M226 112.5H229M232 112.5H235M238 112.5H241M244 112.5H247M250 112.5H253M256 112.5H259M262 112.5H265M268 112.5H271M274 112.5H277M280 112.5H283M286 112.5H289M292 112.5H295M298 112.5H301M304 112.5H307M310 112.5H313M316 112.5H319M322 112.5H325M328 112.5H331M334 112.5H337M340 112.5H343M346 112.5H349M352 112.5H355M358 112.5H361M364 112.5H367M370 112.5H373M376 112.5H379M382 112.5H385M388 112.5H391M394 112.5H397M400 112.5H403M406 112.5H409M412 112.5H415M418 112.5H421M424 112.5H427M430 112.5H433M436 112.5H439M442 112.5H445M448 112.5H451M454 112.5H457M460 112.5H463M466 112.5H469M472 112.5H475M478 112.5H481M484 112.5H487M490 112.5H493M496 112.5H499M502 112.5H505M508 112.5H511M514 112.5H517M520 112.5H523M526 112.5H529M532 112.5H535M538 112.5H541M544 112.5H547M550 112.5H553M556 112.5H559M562 112.5H565M568 112.5H571M574 112.5H577M580 112.5H583M586 112.5H589M592 112.5H595M598 112.5H601M604 112.5H607M610 112.5H613M616 112.5H619M622 112.5H625M628 112.5H631M634 112.5H637M640 112.5H643M646 112.5H649M652 112.5H655M658 112.5H661M664 112.5H667M670 112.5H673M676 112.5H679M682 112.5H685M688 112.5H691M694 112.5H697M700 112.5H703M706 112.5H709M712 112.5H715M718 112.5H721M724 112.5H727M730 112.5H733M736 112.5H739M742 112.5H745M748 112.5H751M754 112.5H757M760 112.5H763M766 112.5H769M772 112.5H775M4 144.5H7M10 144.5H13M16 144.5H19M22 144.5H25M28 144.5H31M34 144.5H37M40 144.5H43M46 144.5H49M52 144.5H55M58 144.5H61M64 144.5H67M70 144.5H73M76 144.5H79M82 144.5H85M88 144.5H91M94 144.5H97M100 144.5H103M106 144.5H109M112 144.5H115M118 144.5H121M124 144.5H127M130 144.5H133M136 144.5H139M142 144.5H145M148 144.5H151M154 144.5H157M160 144.5H163M166 144.5H169M172 144.5H175M178 144.5H181M184 144.5H187M190 144.5H193M196 144.5H199M202 144.5H205M208 144.5H211M214 144.5H217M220 144.5H223M226 144.5H229M232 144.5H235M238 144.5H241M244 144.5H247M250 144.5H253M256 144.5H259M262 144.5H265M268 144.5H271M274 144.5H277M280 144.5H283M286 144.5H289M292 144.5H295M298 144.5H301M304 144.5H307M310 144.5H313M316 144.5H319M322 144.5H325M328 144.5H331M334 144.5H337M340 144.5H343M346 144.5H349M352 144.5H355M358 144.5H361M364 144.5H367M370 144.5H373M376 144.5H379M382 144.5H385M388 144.5H391M394 144.5H397M400 144.5H403M406 144.5H409M412 144.5H415M418 144.5H421M424 144.5H427M430 144.5H433M436 144.5H439M442 144.5H445M448 144.5H451M454 144.5H457M460 144.5H463M466 144.5H469M472 144.5H475M478 144.5H481M484 144.5H487M490 144.5H493M496 144.5H499M502 144.5H505M508 144.5H511M514 144.5H517M520 144.5H523M526 144.5H529M532 144.5H535M538 144.5H541M544 144.5H547M550 144.5H553M556 144.5H559M562 144.5H565M568 144.5H571M574 144.5H577M580 144.5H583M586 144.5H589M592 144.5H595M598 144.5H601M604 144.5H607M610 144.5H613M616 144.5H619M622 144.5H625M628 144.5H631M634 144.5H637M640 144.5H643M646 144.5H649M652 144.5H655M658 144.5H661M664 144.5H667M670 144.5H673M676 144.5H679M682 144.5H685M688 144.5H691M694 144.5H697M700 144.5H703M706 144.5H709M712 144.5H715M718 144.5H721M724 144.5H727M730 144.5H733M736 144.5H739M742 144.5H745M748 144.5H751M754 144.5H757M760 144.5H763M766 144.5H769M772 144.5H775M4 176.5H7M10 176.5H13M16 176.5H19M22 176.5H25M28 176.5H31M34 176.5H37M40 176.5H43M46 176.5H49M52 176.5H55M58 176.5H61M64 176.5H67M70 176.5H73M76 176.5H79M82 176.5H85M88 176.5H91M94 176.5H97M100 176.5H103M106 176.5H109M112 176.5H115M118 176.5H121M124 176.5H127M130 176.5H133M136 176.5H139M142 176.5H145M148 176.5H151M154 176.5H157M160 176.5H163M166 176.5H169M172 176.5H175M178 176.5H181M184 176.5H187M190 176.5H193M196 176.5H199M202 176.5H205M208 176.5H211M214 176.5H217M220 176.5H223M226 176.5H229M232 176.5H235M238 176.5H241M244 176.5H247M250 176.5H253M256 176.5H259M262 176.5H265M268 176.5H271M274 176.5H277M280 176.5H283M286 176.5H289M292 176.5H295M298 176.5H301M304 176.5H307M310 176.5H313M316 176.5H319M322 176.5H325M328 176.5H331M334 176.5H337M340 176.5H343M346 176.5H349M352 176.5H355M358 176.5H361M364 176.5H367M370 176.5H373M376 176.5H379M382 176.5H385M388 176.5H391M394 176.5H397M400 176.5H403M406 176.5H409M412 176.5H415M418 176.5H421M424 176.5H427M430 176.5H433M436 176.5H439M442 176.5H445M448 176.5H451M454 176.5H457M460 176.5H463M466 176.5H469M472 176.5H475M478 176.5H481M484 176.5H487M490 176.5H493M496 176.5H499M502 176.5H505M508 176.5H511M514 176.5H517M520 176.5H523M526 176.5H529M532 176.5H535M538 176.5H541M544 176.5H547M550 176.5H553M556 176.5H559M562 176.5H565M568 176.5H571M574 176.5H577M580 176.5H583M586 176.5H589M592 176.5H595M598 176.5H601M604 176.5H607M610 176.5H613M616 176.5H619M622 176.5H625M628 176.5H631M634 176.5H637M640 176.5H643M646 176.5H649M652 176.5H655M658 176.5H661M664 176.5H667M670 176.5H673M676 176.5H679M682 176.5H685M688 176.5H691M694 176.5H697M700 176.5H703M706 176.5H709M712 176.5H715M718 176.5H721M724 176.5H727M730 176.5H733M736 176.5H739M742 176.5H745M748 176.5H751M754 176.5H757M760 176.5H763M766 176.5H769M772 176.5H775M4 208.5H7M10 208.5H13M16 208.5H19M22 208.5H25M28 208.5H31M34 208.5H37M40 208.5H43M46 208.5H49M52 208.5H55M58 208.5H61M64 208.5H67M70 208.5H73M76 208.5H79M82 208.5H85M88 208.5H91M94 208.5H97M100 208.5H103M106 208.5H109M112 208.5H115M118 208.5H121M124 208.5H127M130 208.5H133M136 208.5H139M142 208.5H145M148 208.5H151M154 208.5H157M160 208.5H163M166 208.5H169M172 208.5H175M178 208.5H181M184 208.5H187M190 208.5H193M196 208.5H199M202 208.5H205M208 208.5H211M214 208.5H217M220 208.5H223M226 208.5H229M232 208.5H235M238 208.5H241M244 208.5H247M250 208.5H253M256 208.5H259M262 208.5H265M268 208.5H271M274 208.5H277M280 208.5H283M286 208.5H289M292 208.5H295M298 208.5H301M304 208.5H307M310 208.5H313M316 208.5H319M322 208.5H325M328 208.5H331M334 208.5H337M340 208.5H343M346 208.5H349M352 208.5H355M358 208.5H361M364 208.5H367M370 208.5H373M376 208.5H379M382 208.5H385M388 208.5H391M394 208.5H397M400 208.5H403M406 208.5H409M412 208.5H415M418 208.5H421M424 208.5H427M430 208.5H433M436 208.5H439M442 208.5H445M448 208.5H451M454 208.5H457M460 208.5H463M466 208.5H469M472 208.5H475M478 208.5H481M484 208.5H487M490 208.5H493M496 208.5H499M502 208.5H505M508 208.5H511M514 208.5H517M520 208.5H523M526 208.5H529M532 208.5H535M538 208.5H541M544 208.5H547M550 208.5H553M556 208.5H559M562 208.5H565M568 208.5H571M574 208.5H577M580 208.5H583M586 208.5H589M592 208.5H595M598 208.5H601M604 208.5H607M610 208.5H613M616 208.5H619M622 208.5H625M628 208.5H631M634 208.5H637M640 208.5H643M646 208.5H649M652 208.5H655M658 208.5H661M664 208.5H667M670 208.5H673M676 208.5H679M682 208.5H685M688 208.5H691M694 208.5H697M700 208.5H703M706 208.5H709M712 208.5H715M718 208.5H721M724 208.5H727M730 208.5H733M736 208.5H739M742 208.5H745M748 208.5H751M754 208.5H757M760 208.5H763M766 208.5H769M772 208.5H775M4 240.5H7M10 240.5H13M16 240.5H19M22 240.5H25M28 240.5H31M34 240.5H37M40 240.5H43M46 240.5H49M52 240.5H55M58 240.5H61M64 240.5H67M70 240.5H73M76 240.5H79M82 240.5H85M88 240.5H91M94 240.5H97M100 240.5H103M106 240.5H109M112 240.5H115M118 240.5H121M124 240.5H127M130 240.5H133M136 240.5H139M142 240.5H145M148 240.5H151M154 240.5H157M160 240.5H163M166 240.5H169M172 240.5H175M178 240.5H181M184 240.5H187M190 240.5H193M196 240.5H199M202 240.5H205M208 240.5H211M214 240.5H217M220 240.5H223M226 240.5H229M232 240.5H235M238 240.5H241M244 240.5H247M250 240.5H253M256 240.5H259M262 240.5H265M268 240.5H271M274 240.5H277M280 240.5H283M286 240.5H289M292 240.5H295M298 240.5H301M304 240.5H307M310 240.5H313M316 240.5H319M322 240.5H325M328 240.5H331M334 240.5H337M340 240.5H343M346 240.5H349M352 240.5H355M358 240.5H361M364 240.5H367M370 240.5H373M376 240.5H379M382 240.5H385M388 240.5H391M394 240.5H397M400 240.5H403M406 240.5H409M412 240.5H415M418 240.5H421M424 240.5H427M430 240.5H433M436 240.5H439M442 240.5H445M448 240.5H451M454 240.5H457M460 240.5H463M466 240.5H469M472 240.5H475M478 240.5H481M484 240.5H487M490 240.5H493M496 240.5H499M502 240.5H505M508 240.5H511M514 240.5H517M520 240.5H523M526 240.5H529M532 240.5H535M538 240.5H541M544 240.5H547M550 240.5H553M556 240.5H559M562 240.5H565M568 240.5H571M574 240.5H577M580 240.5H583M586 240.5H589M592 240.5H595M598 240.5H601M604 240.5H607M610 240.5H613M616 240.5H619M622 240.5H625M628 240.5H631M634 240.5H637M640 240.5H643M646 240.5H649M652 240.5H655M658 240.5H661M664 240.5H667M670 240.5H673M676 240.5H679M682 240.5H685M688 240.5H691M694 240.5H697M700 240.5H703M706 240.5H709M712 240.5H715M718 240.5H721M724 240.5H727M730 240.5H733M736 240.5H739M742 240.5H745M748 240.5H751M754 240.5H757M760 240.5H763M766 240.5H769M772 240.5H775M4 309.5H7M10 309.5H13M16 309.5H19M22 309.5H25M28 309.5H31M34 309.5H37M40 309.5H43M46 309.5H49M52 309.5H55M58 309.5H61M64 309.5H67M70 309.5H73M76 309.5H79M82 309.5H85M88 309.5H91M94 309.5H97M100 309.5H103M106 309.5H109M112 309.5H115M118 309.5H121M124 309.5H127M130 309.5H133M136 309.5H139M142 309.5H145M148 309.5H151M154 309.5H157M160 309.5H163M166 309.5H169M172 309.5H175M178 309.5H181M184 309.5H187M190 309.5H193M196 309.5H199M202 309.5H205M208 309.5H211M214 309.5H217M220 309.5H223M226 309.5H229M232 309.5H235M238 309.5H241M244 309.5H247M250 309.5H253M256 309.5H259M262 309.5H265M268 309.5H271M274 309.5H277M280 309.5H283M286 309.5H289M292 309.5H295M298 309.5H301M304 309.5H307M310 309.5H313M316 309.5H319M322 309.5H325M328 309.5H331M334 309.5H337M340 309.5H343M346 309.5H349M352 309.5H355M358 309.5H361M364 309.5H367M370 309.5H373M376 309.5H379M382 309.5H385M388 309.5H391M394 309.5H397M400 309.5H403M406 309.5H409M412 309.5H415M418 309.5H421M424 309.5H427M430 309.5H433M436 309.5H439M442 309.5H445M448 309.5H451M454 309.5H457M460 309.5H463M466 309.5H469M472 309.5H475M478 309.5H481M484 309.5H487M490 309.5H493M496 309.5H499M502 309.5H505M508 309.5H511M514 309.5H517M520 309.5H523M526 309.5H529M532 309.5H535M538 309.5H541M544 309.5H547M550 309.5H553M556 309.5H559M562 309.5H565M568 309.5H571M574 309.5H577M580 309.5H583M586 309.5H589M592 309.5H595M598 309.5H601M604 309.5H607M610 309.5H613M616 309.5H619M622 309.5H625M628 309.5H631M634 309.5H637M640 309.5H643M646 309.5H649M652 309.5H655M658 309.5H661M664 309.5H667M670 309.5H673M676 309.5H679M682 309.5H685M688 309.5H691M694 309.5H697M700 309.5H703M706 309.5H709M712 309.5H715M718 309.5H721M724 309.5H727M730 309.5H733M736 309.5H739M742 309.5H745M748 309.5H751M754 309.5H757M760 309.5H763M766 309.5H769M772 309.5H775M4 329.5H7M10 329.5H13M16 329.5H19M22 329.5H25M28 329.5H31M34 329.5H37M40 329.5H43M46 329.5H49M52 329.5H55M58 329.5H61M64 329.5H67M70 329.5H73M76 329.5H79M82 329.5H85M88 329.5H91M94 329.5H97M100 329.5H103M106 329.5H109M112 329.5H115M118 329.5H121M124 329.5H127M130 329.5H133M136 329.5H139M142 329.5H145M148 329.5H151M154 329.5H157M160 329.5H163M166 329.5H169M172 329.5H175M178 329.5H181M184 329.5H187M190 329.5H193M196 329.5H199M202 329.5H205M208 329.5H211M214 329.5H217M220 329.5H223M226 329.5H229M232 329.5H235M238 329.5H241M244 329.5H247M250 329.5H253M256 329.5H259M262 329.5H265M268 329.5H271M274 329.5H277M280 329.5H283M286 329.5H289M292 329.5H295M298 329.5H301M304 329.5H307M310 329.5H313M316 329.5H319M322 329.5H325M328 329.5H331M334 329.5H337M340 329.5H343M346 329.5H349M352 329.5H355M358 329.5H361M364 329.5H367M370 329.5H373M376 329.5H379M382 329.5H385M388 329.5H391M394 329.5H397M400 329.5H403M406 329.5H409M412 329.5H415M418 329.5H421M424 329.5H427M430 329.5H433M436 329.5H439M442 329.5H445M448 329.5H451M454 329.5H457M460 329.5H463M466 329.5H469M472 329.5H475M478 329.5H481M484 329.5H487M490 329.5H493M496 329.5H499M502 329.5H505M508 329.5H511M514 329.5H517M520 329.5H523M526 329.5H529M532 329.5H535M538 329.5H541M544 329.5H547M550 329.5H553M556 329.5H559M562 329.5H565M568 329.5H571M574 329.5H577M580 329.5H583M586 329.5H589M592 329.5H595M598 329.5H601M604 329.5H607M610 329.5H613M616 329.5H619M622 329.5H625M628 329.5H631M634 329.5H637M640 329.5H643M646 329.5H649M652 329.5H655M658 329.5H661M664 329.5H667M670 329.5H673M676 329.5H679M682 329.5H685M688 329.5H691M694 329.5H697M700 329.5H703M706 329.5H709M712 329.5H715M718 329.5H721M724 329.5H727M730 329.5H733M736 329.5H739M742 329.5H745M748 329.5H751M754 329.5H757M760 329.5H763M766 329.5H769M772 329.5H775M4 377.5H7M10 377.5H13M16 377.5H19M22 377.5H25M28 377.5H31M34 377.5H37M40 377.5H43M46 377.5H49M52 377.5H55M58 377.5H61M64 377.5H67M70 377.5H73M76 377.5H79M82 377.5H85M88 377.5H91M94 377.5H97M100 377.5H103M106 377.5H109M112 377.5H115M118 377.5H121M124 377.5H127M130 377.5H133M136 377.5H139M142 377.5H145M148 377.5H151M154 377.5H157M160 377.5H163M166 377.5H169M172 377.5H175M178 377.5H181M184 377.5H187M190 377.5H193M196 377.5H199M202 377.5H205M208 377.5H211M214 377.5H217M220 377.5H223M226 377.5H229M232 377.5H235M238 377.5H241M244 377.5H247M250 377.5H253M256 377.5H259M262 377.5H265M268 377.5H271M274 377.5H277M280 377.5H283M286 377.5H289M292 377.5H295M298 377.5H301M304 377.5H307M310 377.5H313M316 377.5H319M322 377.5H325M328 377.5H331M334 377.5H337M340 377.5H343M346 377.5H349M352 377.5H355M358 377.5H361M364 377.5H367M370 377.5H373M376 377.5H379M382 377.5H385M388 377.5H391M394 377.5H397M400 377.5H403M406 377.5H409M412 377.5H415M418 377.5H421M424 377.5H427M430 377.5H433M436 377.5H439M442 377.5H445M448 377.5H451M454 377.5H457M460 377.5H463M466 377.5H469M472 377.5H475M478 377.5H481M484 377.5H487M490 377.5H493M496 377.5H499M502 377.5H505M508 377.5H511M514 377.5H517M520 377.5H523M526 377.5H529M532 377.5H535M538 377.5H541M544 377.5H547M550 377.5H553M556 377.5H559M562 377.5H565M568 377.5H571M574 377.5H577M580 377.5H583M586 377.5H589M592 377.5H595M598 377.5H601M604 377.5H607M610 377.5H613M616 377.5H619M622 377.5H625M628 377.5H631M634 377.5H637M640 377.5H643M646 377.5H649M652 377.5H655M658 377.5H661M664 377.5H667M670 377.5H673M676 377.5H679M682 377.5H685M688 377.5H691M694 377.5H697M700 377.5H703M706 377.5H709M712 377.5H715M718 377.5H721M724 377.5H727M730 377.5H733M736 377.5H739M742 377.5H745M748 377.5H751M754 377.5H757M760 377.5H763M766 377.5H769M772 377.5H775M4 392.5H7M10 392.5H13M16 392.5H19M22 392.5H25M28 392.5H31M34 392.5H37M40 392.5H43M46 392.5H49M52 392.5H55M58 392.5H61M64 392.5H67M70 392.5H73M76 392.5H79M82 392.5H85M88 392.5H91M94 392.5H97M100 392.5H103M106 392.5H109M112 392.5H115M118 392.5H121M124 392.5H127M130 392.5H133M136 392.5H139M142 392.5H145M148 392.5H151M154 392.5H157M160 392.5H163M166 392.5H169M172 392.5H175M178 392.5H181M184 392.5H187M190 392.5H193M196 392.5H199M202 392.5H205M208 392.5H211M214 392.5H217M220 392.5H223M226 392.5H229M232 392.5H235M238 392.5H241M244 392.5H247M250 392.5H253M256 392.5H259M262 392.5H265M268 392.5H271M274 392.5H277M280 392.5H283M286 392.5H289M292 392.5H295M298 392.5H301M304 392.5H307M310 392.5H313M316 392.5H319M322 392.5H325M328 392.5H331M334 392.5H337M340 392.5H343M346 392.5H349M352 392.5H355M358 392.5H361M364 392.5H367M370 392.5H373M376 392.5H379M382 392.5H385M388 392.5H391M394 392.5H397M400 392.5H403M406 392.5H409M412 392.5H415M418 392.5H421M424 392.5H427M430 392.5H433M436 392.5H439M442 392.5H445M448 392.5H451M454 392.5H457M460 392.5H463M466 392.5H469M472 392.5H475M478 392.5H481M484 392.5H487M490 392.5H493M496 392.5H499M502 392.5H505M508 392.5H511M514 392.5H517M520 392.5H523M526 392.5H529M532 392.5H535M538 392.5H541M544 392.5H547M550 392.5H553M556 392.5H559M562 392.5H565M568 392.5H571M574 392.5H577M580 392.5H583M586 392.5H589M592 392.5H595M598 392.5H601M604 392.5H607M610 392.5H613M616 392.5H619M622 392.5H625M628 392.5H631M634 392.5H637M640 392.5H643M646 392.5H649M652 392.5H655M658 392.5H661M664 392.5H667M670 392.5H673M676 392.5H679M682 392.5H685M688 392.5H691M694 392.5H697M700 392.5H703M706 392.5H709M712 392.5H715M718 392.5H721M724 392.5H727M730 392.5H733M736 392.5H739M742 392.5H745M748 392.5H751M754 392.5H757M760 392.5H763M766 392.5H769M772 392.5H775M4 458.5H7M10 458.5H13M16 458.5H19M22 458.5H25M28 458.5H31M34 458.5H37M40 458.5H43M46 458.5H49M52 458.5H55M58 458.5H61M64 458.5H67M70 458.5H73M76 458.5H79M82 458.5H85M88 458.5H91M94 458.5H97M100 458.5H103M106 458.5H109M112 458.5H115M118 458.5H121M124 458.5H127M130 458.5H133M136 458.5H139M142 458.5H145M148 458.5H151M154 458.5H157M160 458.5H163M166 458.5H169M172 458.5H175M178 458.5H181M184 458.5H187M190 458.5H193M196 458.5H199M202 458.5H205M208 458.5H211M214 458.5H217M220 458.5H223M226 458.5H229M232 458.5H235M238 458.5H241M244 458.5H247M250 458.5H253M256 458.5H259M262 458.5H265M268 458.5H271M274 458.5H277M280 458.5H283M286 458.5H289M292 458.5H295M298 458.5H301M304 458.5H307M310 458.5H313M316 458.5H319M322 458.5H325M328 458.5H331M334 458.5H337M340 458.5H343M346 458.5H349M352 458.5H355M358 458.5H361M364 458.5H367M370 458.5H373M376 458.5H379M382 458.5H385M388 458.5H391M394 458.5H397M400 458.5H403M406 458.5H409M412 458.5H415M418 458.5H421M424 458.5H427M430 458.5H433M436 458.5H439M442 458.5H445M448 458.5H451M454 458.5H457M460 458.5H463M466 458.5H469M472 458.5H475M478 458.5H481M484 458.5H487M490 458.5H493M496 458.5H499M502 458.5H505M508 458.5H511M514 458.5H517M520 458.5H523M526 458.5H529M532 458.5H535M538 458.5H541M544 458.5H547M550 458.5H553M556 458.5H559M562 458.5H565M568 458.5H571M574 458.5H577M580 458.5H583M586 458.5H589M592 458.5H595M598 458.5H601M604 458.5H607M610 458.5H613M616 458.5H619M622 458.5H625M628 458.5H631M634 458.5H637M640 458.5H643M646 458.5H649M652 458.5H655M658 458.5H661M664 458.5H667M670 458.5H673M676 458.5H679M682 458.5H685M688 458.5H691M694 458.5H697M700 458.5H703M706 458.5H709M712 458.5H715M718 458.5H721M724 458.5H727M730 458.5H733M736 458.5H739M742 458.5H745M748 458.5H751M754 458.5H757M760 458.5H763M766 458.5H769M772 458.5H775" stroke="#c0c0c0" stroke-width="1" fill="none"/>
</g>
<rect x="5" y="5" width="181" height="11" fill="#fff"/><rect x="5" y="249" width="154" height="11" fill="#fff"/><rect x="5" y="317" width="125" height="11" fill="#fff"/><rect x="5" y="400" width="196" height="11" fill="#fff"/><rect x="4" y="463" width="291" height="13" fill="#fff" fill-opacity="0.6"/>
<defs><clipPath id="cm"><rect x="3" y="3" width="772" height="239"/></clipPath></defs>
<g shape-rendering="crispEdges">
<rect x="3" y="60" width="772" height="1" fill="#c0c0c0"/>
<polyline points="299.5,241.5 307.5,241.0 315.5,240.6 323.5,240.2 331.5,239.4 339.5,238.6 347.5,238.2 355.5,237.8 363.5,236.9 371.5,236.0 379.5,235.2 387.5,234.5 395.5,233.7 403.5,233.0 411.5,232.0 419.5,230.0 427.5,229.0 435.5,228.0 443.5,227.2 451.5,226.4 459.5,225.0 467.5,223.0 475.5,222.5 483.5,221.5 491.5,220.0 499.5,218.7 507.5,217.5 515.5,215.9 523.5,214.3 531.5,213.2 539.5,212.2 547.5,210.7 555.5,209.2 563.5,208.0 571.5,206.8 579.5,205.2 587.5,203.7 595.5,202.0 603.5,200.7" fill="none" stroke="#0000cd" stroke-width="2" clip-path="url(#cm)"/>
<polyline points="3.5,237.2 11.5,235.2 19.5,233.2 27.5,231.5 35.5,229.9 43.5,228.4 51.5,226.4 59.5,225.0 67.5,223.5 75.5,222.0 83.5,220.6 91.5,218.4 99.5,216.2 107.5,214.1 115.5,212.1 123.5,210.7 131.5,209.1 139.5,207.3 147.5,205.7 155.5,203.9 163.5,202.9 171.5,202.6 179.5,202.4 187.5,201.9 195.5,201.7 203.5,200.8 211.5,200.0 219.5,199.5 227.5,199.0 235.5,198.5 243.5,198.0 251.5,197.3 259.5,196.6 267.5,195.9 275.5,195.2 283.5,194.6 291.5,194.0 299.5,193.5 307.5,193.0 315.5,192.4 323.5,192.0 331.5,191.3 339.5,190.6 347.5,190.1 355.5,189.6 363.5,189.3 371.5,189.0 379.5,188.5 387.5,188.0 395.5,187.5 403.5,187.0 411.5,186.2 419.5,185.5 427.5,184.7 435.5,183.9 443.5,183.2 451.5,182.5 459.5,181.4 467.5,180.4 475.5,178.5 483.5,177.0 491.5,175.8 499.5,174.9 507.5,174.0 515.5,172.2 523.5,170.3 531.5,169.3 539.5,168.3 547.5,166.2 555.5,164.2 563.5,162.5 571.5,160.8 579.5,158.9 587.5,157.0 595.5,154.7 603.5,154.7" fill="none" stroke="#ff00ff" stroke-width="2" stroke-linejoin="round" clip-path="url(#cm)"/>
<polyline points="3.5,176.0 11.5,175.8 19.5,172.3 27.5,166.8 35.5,165.4 43.5,162.6 51.5,165.5 59.5,166.7 67.5,168.2 75.5,169.9 83.5,170.9 91.5,171.4 99.5,178.4 107.5,183.6 115.5,182.0 123.5,176.3 131.5,169.5 139.5,165.8 147.5,160.2 155.5,155.0 163.5,151.6 171.5,150.0 179.5,148.3 187.5,147.5 195.5,146.7 203.5,145.0 211.5,145.3 219.5,145.7 227.5,145.0 235.5,145.0 243.5,146.7 251.5,146.0 259.5,145.0 267.5,131.0 275.5,120.8 283.5,114.7 291.5,110.6 299.5,107.6 307.5,105.6 315.5,102.5 323.5,96.5 331.5,85.3 339.5,82.3 347.5,80.3 355.5,78.8 363.5,78.8 371.5,81.3 379.5,85.3 387.5,86.3 395.5,89.4 403.5,92.8 411.5,92.8 419.5,92.4 427.5,89.4 435.5,85.3 443.5,82.0 451.5,79.0 459.5,76.0 467.5,67.8 475.5,61.8 483.5,57.7 491.5,56.7 499.5,53.7 507.5,51.6 515.5,45.6 523.5,40.5 531.5,37.0 539.5,35.4 547.5,33.4 555.5,27.3 563.5,23.9 571.5,21.3 579.5,18.4 587.5,13.2 595.5,13.2 603.5,14.2" fill="none" stroke="#24a85c" stroke-width="2" stroke-linejoin="round" clip-path="url(#cm)"/>
<polyline points="3.5,237.0 11.5,236.5 19.5,234.3 27.5,231.6 35.5,227.0 43.5,222.4 51.5,218.7 59.5,216.4 67.5,214.3 75.5,211.3 83.5,208.9 91.5,207.4 99.5,204.5 107.5,200.8 115.5,199.9 123.5,198.8 131.5,197.9 139.5,195.8 147.5,193.8 155.5,191.8 163.5,190.4 171.5,187.2 179.5,185.4 187.5,184.5 195.5,183.5 203.5,182.5 211.5,181.0 219.5,179.8 227.5,178.4 235.5,175.4 243.5,173.4 251.5,170.3 259.5,166.9 267.5,163.6 275.5,160.8 283.5,158.5 291.5,156.8 299.5,155.2 307.5,153.4 315.5,152.0 323.5,149.1 331.5,145.0 339.5,141.0 347.5,138.0 355.5,135.3 363.5,132.9 371.5,130.5 379.5,127.8 387.5,126.4 395.5,124.4 403.5,121.8 411.5,119.7 419.5,118.1 427.5,116.7 435.5,116.2 443.5,115.1 451.5,113.0 459.5,110.6 467.5,107.0 475.5,103.5 483.5,102.1 491.5,101.5 499.5,101.1 507.5,99.0 515.5,96.5 523.5,92.3 531.5,88.8 539.5,84.8 547.5,80.2 555.5,75.0 563.5,70.5 571.5,66.4 579.5,62.8 587.5,59.8 595.5,57.7 603.5,56.7" fill="none" stroke="#24a85c" stroke-width="2" stroke-linejoin="round" clip-path="url(#cm)"/>
<polyline points="3.5,300.0 11.5,295.0 19.5,290.0 27.5,285.0 35.5,280.0 43.5,275.0 51.5,270.0 59.5,265.0 67.5,260.0 75.5,255.0 83.5,250.0 91.5,241.2 99.5,229.7 107.5,219.5 115.5,218.8 123.5,224.9 131.5,226.3 139.5,227.2 147.5,229.0 155.5,229.0 163.5,228.3 171.5,224.2 179.5,222.2 187.5,220.9 195.5,221.0 203.5,220.0 211.5,218.3 219.5,213.9 227.5,209.8 235.5,204.7 243.5,199.3 251.5,194.6 259.5,191.6 267.5,195.6 275.5,200.7 283.5,203.1 291.5,203.1 299.5,202.7 307.5,201.7 315.5,201.0 323.5,202.0 331.5,202.0 339.5,201.7 347.5,194.6 355.5,191.6 363.5,186.5 371.5,180.4 379.5,171.3 387.5,168.3 395.5,161.2 403.5,153.0 411.5,148.5 419.5,144.6 427.5,146.0 435.5,147.8 443.5,147.6 451.5,146.8 459.5,146.7 467.5,147.5 475.5,148.0 483.5,148.0 491.5,148.0 499.5,148.0 507.5,147.5 515.5,146.0 523.5,143.4 531.5,140.0 539.5,134.5 547.5,127.8 555.5,121.8 563.5,116.3 571.5,111.6 579.5,108.2 587.5,106.6 595.5,101.0 603.5,98.2" fill="none" stroke="#24a85c" stroke-width="2" stroke-linejoin="round" clip-path="url(#cm)"/>
<path d="M3 235h1v1h-1zM2 236h1v1h-1zM4 236h1v1h-1zM3 237h1v1h-1zM11 229h1v1h-1zM10 230h1v1h-1zM12 230h1v1h-1zM11 231h1v1h-1zM19 223h1v1h-1zM18 224h1v1h-1zM20 224h1v1h-1zM19 225h1v1h-1zM27 219h1v1h-1zM26 220h1v1h-1zM28 220h1v1h-1zM27 221h1v1h-1zM35 216h1v1h-1zM34 217h1v1h-1zM36 217h1v1h-1zM35 218h1v1h-1zM43 212h1v1h-1zM42 213h1v1h-1zM44 213h1v1h-1zM43 214h1v1h-1zM51 159h1v1h-1zM50 160h1v1h-1zM52 160h1v1h-1zM51 161h1v1h-1zM59 160h1v1h-1zM58 161h1v1h-1zM60 161h1v1h-1zM59 162h1v1h-1zM67 162h1v1h-1zM66 163h1v1h-1zM68 163h1v1h-1zM67 164h1v1h-1zM75 165h1v1h-1zM74 166h1v1h-1zM76 166h1v1h-1zM75 167h1v1h-1zM83 170h1v1h-1zM82 171h1v1h-1zM84 171h1v1h-1zM83 172h1v1h-1zM91 174h1v1h-1zM90 175h1v1h-1zM92 175h1v1h-1zM91 176h1v1h-1zM99 180h1v1h-1zM98 181h1v1h-1zM100 181h1v1h-1zM99 182h1v1h-1zM107 234h1v1h-1zM106 235h1v1h-1zM108 235h1v1h-1zM107 236h1v1h-1zM115 233h1v1h-1zM114 234h1v1h-1zM116 234h1v1h-1zM115 235h1v1h-1zM123 232h1v1h-1zM122 233h1v1h-1zM124 233h1v1h-1zM123 234h1v1h-1zM131 229h1v1h-1zM130 230h1v1h-1zM132 230h1v1h-1zM131 231h1v1h-1zM139 224h1v1h-1zM138 225h1v1h-1zM140 225h1v1h-1zM139 226h1v1h-1zM147 216h1v1h-1zM146 217h1v1h-1zM148 217h1v1h-1zM147 218h1v1h-1zM155 210h1v1h-1zM154 211h1v1h-1zM156 211h1v1h-1zM155 212h1v1h-1zM163 203h1v1h-1zM162 204h1v1h-1zM164 204h1v1h-1zM163 205h1v1h-1zM171 198h1v1h-1zM170 199h1v1h-1zM172 199h1v1h-1zM171 200h1v1h-1zM179 192h1v1h-1zM178 193h1v1h-1zM180 193h1v1h-1zM179 194h1v1h-1zM187 132h1v1h-1zM186 133h1v1h-1zM188 133h1v1h-1zM187 134h1v1h-1zM195 133h1v1h-1zM194 134h1v1h-1zM196 134h1v1h-1zM195 135h1v1h-1zM203 134h1v1h-1zM202 135h1v1h-1zM204 135h1v1h-1zM203 136h1v1h-1zM211 136h1v1h-1zM210 137h1v1h-1zM212 137h1v1h-1zM211 138h1v1h-1zM219 138h1v1h-1zM218 139h1v1h-1zM220 139h1v1h-1zM219 140h1v1h-1zM227 141h1v1h-1zM226 142h1v1h-1zM228 142h1v1h-1zM227 143h1v1h-1zM235 145h1v1h-1zM234 146h1v1h-1zM236 146h1v1h-1zM235 147h1v1h-1zM243 148h1v1h-1zM242 149h1v1h-1zM244 149h1v1h-1zM243 150h1v1h-1zM251 197h1v1h-1zM250 198h1v1h-1zM252 198h1v1h-1zM251 199h1v1h-1zM259 196h1v1h-1zM258 197h1v1h-1zM260 197h1v1h-1zM259 198h1v1h-1zM267 194h1v1h-1zM266 195h1v1h-1zM268 195h1v1h-1zM267 196h1v1h-1zM275 189h1v1h-1zM274 190h1v1h-1zM276 190h1v1h-1zM275 191h1v1h-1zM283 181h1v1h-1zM282 182h1v1h-1zM284 182h1v1h-1zM283 183h1v1h-1zM291 172h1v1h-1zM290 173h1v1h-1zM292 173h1v1h-1zM291 174h1v1h-1zM299 164h1v1h-1zM298 165h1v1h-1zM300 165h1v1h-1zM299 166h1v1h-1zM307 157h1v1h-1zM306 158h1v1h-1zM308 158h1v1h-1zM307 159h1v1h-1zM315 151h1v1h-1zM314 152h1v1h-1zM316 152h1v1h-1zM315 153h1v1h-1zM323 151h1v1h-1zM322 152h1v1h-1zM324 152h1v1h-1zM323 153h1v1h-1zM331 149h1v1h-1zM330 150h1v1h-1zM332 150h1v1h-1zM331 151h1v1h-1zM339 149h1v1h-1zM338 150h1v1h-1zM340 150h1v1h-1zM339 151h1v1h-1zM347 139h1v1h-1zM346 140h1v1h-1zM348 140h1v1h-1zM347 141h1v1h-1zM355 130h1v1h-1zM354 131h1v1h-1zM356 131h1v1h-1zM355 132h1v1h-1zM363 123h1v1h-1zM362 124h1v1h-1zM364 124h1v1h-1zM363 125h1v1h-1zM371 76h1v1h-1zM370 77h1v1h-1zM372 77h1v1h-1zM371 78h1v1h-1zM379 77h1v1h-1zM378 78h1v1h-1zM380 78h1v1h-1zM379 79h1v1h-1zM387 79h1v1h-1zM386 80h1v1h-1zM388 80h1v1h-1zM387 81h1v1h-1zM395 80h1v1h-1zM394 81h1v1h-1zM396 81h1v1h-1zM395 82h1v1h-1zM403 84h1v1h-1zM402 85h1v1h-1zM404 85h1v1h-1zM403 86h1v1h-1zM411 86h1v1h-1zM410 87h1v1h-1zM412 87h1v1h-1zM411 88h1v1h-1zM419 88h1v1h-1zM418 89h1v1h-1zM420 89h1v1h-1zM419 90h1v1h-1zM427 137h1v1h-1zM426 138h1v1h-1zM428 138h1v1h-1zM427 139h1v1h-1zM435 136h1v1h-1zM434 137h1v1h-1zM436 137h1v1h-1zM435 138h1v1h-1zM443 134h1v1h-1zM442 135h1v1h-1zM444 135h1v1h-1zM443 136h1v1h-1zM451 132h1v1h-1zM450 133h1v1h-1zM452 133h1v1h-1zM451 134h1v1h-1zM459 129h1v1h-1zM458 130h1v1h-1zM460 130h1v1h-1zM459 131h1v1h-1zM467 127h1v1h-1zM466 128h1v1h-1zM468 128h1v1h-1zM467 129h1v1h-1zM475 123h1v1h-1zM474 124h1v1h-1zM476 124h1v1h-1zM475 125h1v1h-1zM483 117h1v1h-1zM482 118h1v1h-1zM484 118h1v1h-1zM483 119h1v1h-1zM491 110h1v1h-1zM490 111h1v1h-1zM492 111h1v1h-1zM491 112h1v1h-1zM499 49h1v1h-1zM498 50h1v1h-1zM500 50h1v1h-1zM499 51h1v1h-1zM507 50h1v1h-1zM506 51h1v1h-1zM508 51h1v1h-1zM507 52h1v1h-1zM515 105h1v1h-1zM514 106h1v1h-1zM516 106h1v1h-1zM515 107h1v1h-1zM523 103h1v1h-1zM522 104h1v1h-1zM524 104h1v1h-1zM523 105h1v1h-1zM531 102h1v1h-1zM530 103h1v1h-1zM532 103h1v1h-1zM531 104h1v1h-1zM539 99h1v1h-1zM538 100h1v1h-1zM540 100h1v1h-1zM539 101h1v1h-1zM547 97h1v1h-1zM546 98h1v1h-1zM548 98h1v1h-1zM547 99h1v1h-1zM555 94h1v1h-1zM554 95h1v1h-1zM556 95h1v1h-1zM555 96h1v1h-1zM563 90h1v1h-1zM562 91h1v1h-1zM564 91h1v1h-1zM563 92h1v1h-1zM571 85h1v1h-1zM570 86h1v1h-1zM572 86h1v1h-1zM571 87h1v1h-1zM579 78h1v1h-1zM578 79h1v1h-1zM580 79h1v1h-1zM579 80h1v1h-1zM587 73h1v1h-1zM586 74h1v1h-1zM588 74h1v1h-1zM587 75h1v1h-1zM595 66h1v1h-1zM594 67h1v1h-1zM596 67h1v1h-1zM595 68h1v1h-1zM603 14h1v1h-1zM602 15h1v1h-1zM604 15h1v1h-1zM603 16h1v1h-1z" fill="#000"/>
<rect x="3" y="75" width="772" height="2" fill="#c0007a"/>
<path d="M3 235h1V242h-1zM11 239h1V242h-1zM19 238h1V242h-1zM27 235h1V242h-1zM35 226h1V242h-1zM43 228h1V242h-1zM51 224h1V242h-1zM59 232h1V242h-1zM67 231h1V242h-1zM75 231h1V242h-1zM83 225h1V242h-1zM91 226h1V242h-1zM99 224h1V242h-1zM107 223h1V242h-1zM115 223h1V242h-1zM123 221h1V242h-1zM131 220h1V242h-1zM139 213h1V242h-1zM147 216h1V242h-1zM155 225h1V242h-1zM163 227h1V242h-1zM171 226h1V242h-1zM179 227h1V242h-1zM187 228h1V242h-1zM195 234h1V242h-1zM203 238h1V242h-1zM211 238h1V242h-1zM219 236h1V242h-1zM227 231h1V242h-1zM235 231h1V242h-1zM243 228h1V242h-1zM251 228h1V242h-1zM259 233h1V242h-1zM267 227h1V242h-1zM275 223h1V242h-1zM283 222h1V242h-1zM291 220h1V242h-1zM299 224h1V242h-1zM307 228h1V242h-1zM315 225h1V242h-1zM323 220h1V242h-1zM331 214h1V242h-1zM339 222h1V242h-1zM347 228h1V242h-1zM355 230h1V242h-1zM363 234h1V242h-1zM371 231h1V242h-1zM379 232h1V242h-1zM387 233h1V242h-1zM395 239h1V242h-1zM403 239h1V242h-1zM411 236h1V242h-1zM419 226h1V242h-1zM427 228h1V242h-1zM435 226h1V242h-1zM443 231h1V242h-1zM451 230h1V242h-1zM459 229h1V242h-1zM467 223h1V242h-1zM475 223h1V242h-1zM483 220h1V242h-1zM491 224h1V242h-1zM499 225h1V242h-1zM507 229h1V242h-1zM515 217h1V242h-1zM523 217h1V242h-1zM531 217h1V242h-1zM539 223h1V242h-1zM547 229h1V242h-1zM555 226h1V242h-1zM563 231h1V242h-1zM571 233h1V242h-1zM579 233h1V242h-1zM587 236h1V242h-1zM595 225h1V242h-1zM603 224h1V242h-1z" fill="#008000"/>
<path d="M3 197h1V211h-1zM1 200h5V207h-5zM11 194h1V221h-1zM9 200h5V218h-5zM19 199h1V218h-1zM17 209h5V217h-5zM27 180h1V210h-1zM25 195h5V209h-5zM35 180h1V198h-1zM33 193h5V195h-5zM43 182h1V207h-1zM41 187h5V194h-5zM51 185h1V210h-1zM49 186h5V204h-5zM59 202h1V216h-1zM57 203h5V210h-5zM67 203h1V221h-1zM65 209h5V213h-5zM75 202h1V222h-1zM73 202h5V213h-5zM83 198h1V222h-1zM81 202h5V210h-5zM91 204h1V242h-1zM89 207h5V209h-5zM99 190h1V219h-1zM97 198h5V209h-5zM107 169h1V203h-1zM105 184h5V199h-5zM115 173h1V200h-1zM113 184h5V187h-5zM123 159h1V192h-1zM121 163h5V187h-5zM131 147h1V175h-1zM129 163h5V167h-5zM139 133h1V196h-1zM137 167h5V168h-5zM147 141h1V173h-1zM145 154h5V168h-5zM155 153h1V170h-1zM153 154h5V164h-5zM163 158h1V177h-1zM161 163h5V169h-5zM171 165h1V188h-1zM169 168h5V174h-5zM179 158h1V174h-1zM177 165h5V174h-5zM187 159h1V191h-1zM185 164h5V186h-5zM195 167h1V189h-1zM193 169h5V186h-5zM203 164h1V178h-1zM201 168h5V170h-5zM211 168h1V191h-1zM209 170h5V182h-5zM219 174h1V199h-1zM217 180h5V188h-5zM227 157h1V188h-1zM225 157h5V188h-5zM235 155h1V177h-1zM233 157h5V168h-5zM243 161h1V184h-1zM241 167h5V173h-5zM251 143h1V176h-1zM249 146h5V173h-5zM259 140h1V154h-1zM257 146h5V151h-5zM267 112h1V157h-1zM265 113h5V151h-5zM275 98h1V121h-1zM273 106h5V113h-5zM283 93h1V125h-1zM281 106h5V114h-5zM291 105h1V138h-1zM289 113h5V134h-5zM299 118h1V137h-1zM297 128h5V134h-5zM307 125h1V153h-1zM305 128h5V130h-5zM315 122h1V144h-1zM313 129h5V131h-5zM323 111h1V152h-1zM321 111h5V130h-5zM331 82h1V122h-1zM329 85h5V112h-5zM339 77h1V106h-1zM337 85h5V104h-5zM347 99h1V118h-1zM345 102h5V115h-5zM355 110h1V125h-1zM353 113h5V121h-5zM363 113h1V123h-1zM361 120h5V122h-5zM371 120h1V135h-1zM369 121h5V133h-5zM379 124h1V139h-1zM377 132h5V133h-5zM387 128h1V137h-1zM385 132h5V133h-5zM395 116h1V134h-1zM393 128h5V130h-5zM403 121h1V134h-1zM401 122h5V130h-5zM411 111h1V125h-1zM409 114h5V123h-5zM419 102h1V123h-1zM417 102h5V115h-5zM427 88h1V111h-1zM425 89h5V104h-5zM435 77h1V97h-1zM433 84h5V90h-5zM443 79h1V103h-1zM441 84h5V96h-5zM451 89h1V101h-1zM449 92h5V96h-5zM459 80h1V94h-1zM457 83h5V93h-5zM467 53h1V87h-1zM465 61h5V84h-5zM475 50h1V73h-1zM473 61h5V64h-5zM483 50h1V76h-1zM481 62h5V69h-5zM491 63h1V95h-1zM489 68h5V90h-5zM499 76h1V107h-1zM497 78h5V90h-5zM507 72h1V89h-1zM505 77h5V79h-5zM515 39h1V81h-1zM513 54h5V78h-5zM523 46h1V69h-1zM521 54h5V59h-5zM531 34h1V65h-1zM529 48h5V58h-5zM539 39h1V58h-1zM537 48h5V56h-5zM547 43h1V63h-1zM545 45h5V55h-5zM555 26h1V47h-1zM553 26h5V47h-5zM563 25h1V35h-1zM561 25h5V27h-5zM571 23h1V35h-1zM569 25h5V31h-5zM579 25h1V35h-1zM577 30h5V35h-5zM587 15h1V31h-1zM585 23h5V27h-5zM595 24h1V54h-1zM593 24h5V46h-5zM603 38h1V67h-1zM601 44h5V61h-5z" fill="#000" clip-path="url(#cm)"/>
<path d="M2 201h3V206h-3zM18 210h3V216h-3zM26 196h3V208h-3zM42 188h3V193h-3zM74 203h3V212h-3zM98 199h3V208h-3zM106 185h3V198h-3zM122 164h3V186h-3zM146 155h3V167h-3zM178 166h3V173h-3zM194 170h3V185h-3zM226 158h3V187h-3zM250 147h3V172h-3zM266 114h3V150h-3zM274 107h3V112h-3zM298 129h3V133h-3zM322 112h3V129h-3zM330 86h3V111h-3zM402 123h3V129h-3zM410 115h3V122h-3zM418 103h3V114h-3zM426 90h3V103h-3zM434 85h3V89h-3zM450 93h3V95h-3zM458 84h3V92h-3zM466 62h3V83h-3zM498 79h3V89h-3zM514 55h3V77h-3zM530 49h3V57h-3zM546 46h3V54h-3zM554 27h3V46h-3zM586 24h3V26h-3z" fill="#fff" clip-path="url(#cm)"/>
<path d="M627 85h1v1h-1zM626 86h1v1h-1zM628 86h1v1h-1zM625 87h1v1h-1zM629 87h1v1h-1zM624 88h1v1h-1zM630 88h1v1h-1zM623 89h1v1h-1zM631 89h1v1h-1zM622 90h1v1h-1zM632 90h1v1h-1zM623 90h1v1h-1zM624 90h1v1h-1zM625 90h1v1h-1zM629 90h1v1h-1zM630 90h1v1h-1zM631 90h1v1h-1zM625 91h1v1h-1zM625 92h1v1h-1zM625 93h1v1h-1zM625 94h1v1h-1zM625 95h1v1h-1zM625 96h1v1h-1zM629 91h1v1h-1zM629 92h1v1h-1zM629 93h1v1h-1zM629 94h1v1h-1zM629 95h1v1h-1zM629 96h1v1h-1zM626 96h1v1h-1zM627 96h1v1h-1zM628 96h1v1h-1z" fill="#8b4513"/>
<path d="M466 264h6v1h-6zM554 264h12v1h-12zM273 265h5v1h-5zM330 265h3v1h-3zM465 265h1v1h-1zM472 265h6v1h-6zM551 265h3v1h-3zM566 265h3v1h-3zM585 265h3v1h-3zM270 266h3v1h-3zM278 266h3v1h-3zM329 266h1v1h-1zM333 266h2v1h-2zM432 266h5v1h-5zM462 266h3v1h-3zM478 266h3v1h-3zM529 266h5v1h-5zM549 266h2v1h-2zM569 266h7v1h-7zM582 266h3v1h-3zM588 266h1v1h-1zM145 267h4v1h-4zM267 267h3v1h-3zM281 267h3v1h-3zM326 267h3v1h-3zM335 267h3v1h-3zM426 267h6v1h-6zM437 267h1v1h-1zM461 267h1v1h-1zM481 267h3v1h-3zM514 267h6v1h-6zM526 267h3v1h-3zM534 267h3v1h-3zM544 267h5v1h-5zM576 267h6v1h-6zM589 267h1v1h-1zM122 268h6v1h-6zM142 268h3v1h-3zM149 268h2v1h-2zM265 268h2v1h-2zM284 268h2v1h-2zM325 268h1v1h-1zM338 268h3v1h-3zM423 268h3v1h-3zM438 268h3v1h-3zM456 268h5v1h-5zM484 268h1v1h-1zM513 268h1v1h-1zM520 268h6v1h-6zM537 268h7v1h-7zM590 268h1v1h-1zM121 269h1v1h-1zM128 269h14v1h-14zM151 269h3v1h-3zM264 269h1v1h-1zM286 269h2v1h-2zM322 269h3v1h-3zM341 269h1v1h-1zM421 269h2v1h-2zM441 269h1v1h-1zM448 269h8v1h-8zM485 269h2v1h-2zM510 269h3v1h-3zM591 269h2v1h-2zM118 270h3v1h-3zM154 270h6v1h-6zM251 270h3v1h-3zM262 270h2v1h-2zM288 270h1v1h-1zM319 270h3v1h-3zM342 270h3v1h-3zM417 270h4v1h-4zM442 270h6v1h-6zM487 270h1v1h-1zM509 270h1v1h-1zM593 270h1v1h-1zM117 271h1v1h-1zM160 271h6v1h-6zM177 271h3v1h-3zM249 271h2v1h-2zM254 271h3v1h-3zM260 271h2v1h-2zM289 271h2v1h-2zM317 271h2v1h-2zM345 271h1v1h-1zM414 271h3v1h-3zM488 271h2v1h-2zM504 271h5v1h-5zM594 271h1v1h-1zM40 272h5v1h-5zM105 272h12v1h-12zM166 272h3v1h-3zM174 272h3v1h-3zM180 272h1v1h-1zM248 272h1v1h-1zM257 272h3v1h-3zM291 272h26v1h-26zM346 272h6v1h-6zM409 272h5v1h-5zM490 272h1v1h-1zM496 272h8v1h-8zM595 272h2v1h-2zM3 273h2v1h-2zM32 273h8v1h-8zM45 273h2v1h-2zM102 273h3v1h-3zM169 273h5v1h-5zM181 273h2v1h-2zM194 273h6v1h-6zM227 273h5v1h-5zM246 273h2v1h-2zM352 273h8v1h-8zM406 273h3v1h-3zM491 273h5v1h-5zM597 273h1v1h-1zM5 274h1v1h-1zM24 274h8v1h-8zM47 274h3v1h-3zM97 274h5v1h-5zM183 274h1v1h-1zM193 274h1v1h-1zM200 274h6v1h-6zM226 274h1v1h-1zM232 274h8v1h-8zM244 274h2v1h-2zM360 274h6v1h-6zM400 274h6v1h-6zM598 274h3v1h-3zM6 275h3v1h-3zM17 275h7v1h-7zM50 275h6v1h-6zM94 275h3v1h-3zM184 275h2v1h-2zM190 275h3v1h-3zM206 275h3v1h-3zM224 275h2v1h-2zM240 275h4v1h-4zM366 275h3v1h-3zM392 275h8v1h-8zM601 275h1v1h-1zM9 276h1v1h-1zM14 276h3v1h-3zM56 276h8v1h-8zM72 276h8v1h-8zM88 276h6v1h-6zM186 276h1v1h-1zM189 276h1v1h-1zM209 276h4v1h-4zM223 276h1v1h-1zM369 276h23v1h-23zM602 276h2v1h-2zM10 277h4v1h-4zM64 277h8v1h-8zM80 277h8v1h-8zM187 277h2v1h-2zM213 277h2v1h-2zM221 277h2v1h-2zM215 278h3v1h-3zM220 278h1v1h-1zM218 279h2v1h-2z" fill="#1e90ff"/>
<path d="M584 266h8v1h-8zM568 267h16v1h-16zM592 267h12v1h-12zM473 268h95v1h-95zM328 269h24v1h-24zM470 269h3v1h-3zM168 270h16v1h-16zM312 270h16v1h-16zM352 270h8v1h-8zM464 270h6v1h-6zM152 271h16v1h-16zM184 271h24v1h-24zM288 271h24v1h-24zM360 271h16v1h-16zM456 271h8v1h-8zM144 272h8v1h-8zM208 272h8v1h-8zM272 272h16v1h-16zM376 272h16v1h-16zM440 272h16v1h-16zM24 273h24v1h-24zM136 273h8v1h-8zM216 273h16v1h-16zM264 273h8v1h-8zM392 273h16v1h-16zM424 273h16v1h-16zM16 274h8v1h-8zM48 274h16v1h-16zM120 274h16v1h-16zM232 274h32v1h-32zM408 274h16v1h-16zM3 275h13v1h-13zM64 275h56v1h-56z" fill="#ff00ff"/>
<path d="M426 318h4v1h-4zM570 318h2v1h-2zM425 319h1v1h-1zM430 319h3v1h-3zM569 319h1v1h-1zM572 319h1v1h-1zM267 320h10v1h-10zM422 320h3v1h-3zM433 320h3v1h-3zM566 320h3v1h-3zM573 320h1v1h-1zM266 321h1v1h-1zM277 321h2v1h-2zM421 321h1v1h-1zM436 321h1v1h-1zM565 321h1v1h-1zM574 321h1v1h-1zM265 322h1v1h-1zM279 322h3v1h-3zM419 322h2v1h-2zM437 322h1v1h-1zM563 322h2v1h-2zM575 322h1v1h-1zM264 323h1v1h-1zM282 323h2v1h-2zM419 323h1v1h-1zM438 323h1v1h-1zM562 323h1v1h-1zM576 323h1v1h-1zM263 324h1v1h-1zM284 324h1v1h-1zM418 324h1v1h-1zM439 324h1v1h-1zM561 324h1v1h-1zM577 324h1v1h-1zM263 325h1v1h-1zM284 325h1v1h-1zM418 325h1v1h-1zM439 325h1v1h-1zM560 325h1v1h-1zM578 325h1v1h-1zM262 326h1v1h-1zM285 326h1v1h-1zM417 326h1v1h-1zM440 326h1v1h-1zM559 326h1v1h-1zM579 326h1v1h-1zM122 327h4v1h-4zM261 327h1v1h-1zM285 327h1v1h-1zM417 327h1v1h-1zM441 327h1v1h-1zM559 327h1v1h-1zM580 327h2v1h-2zM121 328h1v1h-1zM126 328h3v1h-3zM260 328h1v1h-1zM286 328h1v1h-1zM339 328h1v1h-1zM416 328h1v1h-1zM442 328h1v1h-1zM558 328h1v1h-1zM582 328h2v1h-2zM118 329h3v1h-3zM129 329h3v1h-3zM258 329h2v1h-2zM286 329h1v1h-1zM338 329h1v1h-1zM340 329h1v1h-1zM416 329h1v1h-1zM443 329h1v1h-1zM474 329h3v1h-3zM557 329h1v1h-1zM584 329h1v1h-1zM117 330h1v1h-1zM132 330h1v1h-1zM255 330h3v1h-3zM287 330h1v1h-1zM336 330h2v1h-2zM341 330h1v1h-1zM415 330h1v1h-1zM444 330h1v1h-1zM471 330h3v1h-3zM477 330h1v1h-1zM556 330h1v1h-1zM585 330h2v1h-2zM107 331h10v1h-10zM133 331h2v1h-2zM253 331h2v1h-2zM288 331h1v1h-1zM335 331h1v1h-1zM342 331h1v1h-1zM415 331h1v1h-1zM445 331h1v1h-1zM469 331h2v1h-2zM478 331h3v1h-3zM554 331h2v1h-2zM587 331h1v1h-1zM106 332h1v1h-1zM135 332h1v1h-1zM243 332h10v1h-10zM288 332h1v1h-1zM333 332h2v1h-2zM343 332h1v1h-1zM415 332h1v1h-1zM446 332h1v1h-1zM467 332h2v1h-2zM481 332h1v1h-1zM531 332h2v1h-2zM551 332h3v1h-3zM587 332h1v1h-1zM106 333h1v1h-1zM136 333h2v1h-2zM242 333h1v1h-1zM289 333h1v1h-1zM332 333h1v1h-1zM343 333h1v1h-1zM414 333h1v1h-1zM447 333h1v1h-1zM466 333h1v1h-1zM482 333h2v1h-2zM530 333h1v1h-1zM533 333h1v1h-1zM549 333h2v1h-2zM588 333h1v1h-1zM105 334h1v1h-1zM138 334h1v1h-1zM241 334h1v1h-1zM289 334h1v1h-1zM331 334h1v1h-1zM344 334h1v1h-1zM414 334h1v1h-1zM448 334h1v1h-1zM465 334h1v1h-1zM483 334h1v1h-1zM529 334h1v1h-1zM534 334h3v1h-3zM545 334h4v1h-4zM588 334h1v1h-1zM104 335h1v1h-1zM139 335h1v1h-1zM240 335h1v1h-1zM290 335h1v1h-1zM331 335h1v1h-1zM345 335h1v1h-1zM413 335h1v1h-1zM449 335h1v1h-1zM463 335h2v1h-2zM484 335h1v1h-1zM528 335h1v1h-1zM537 335h1v1h-1zM542 335h3v1h-3zM589 335h1v1h-1zM103 336h1v1h-1zM140 336h1v1h-1zM239 336h1v1h-1zM290 336h1v1h-1zM330 336h1v1h-1zM346 336h1v1h-1zM413 336h1v1h-1zM450 336h1v1h-1zM462 336h1v1h-1zM484 336h1v1h-1zM527 336h1v1h-1zM538 336h4v1h-4zM589 336h1v1h-1zM43 337h1v1h-1zM103 337h1v1h-1zM141 337h1v1h-1zM238 337h1v1h-1zM291 337h1v1h-1zM330 337h1v1h-1zM347 337h1v1h-1zM412 337h1v1h-1zM451 337h3v1h-3zM461 337h1v1h-1zM485 337h1v1h-1zM527 337h1v1h-1zM590 337h1v1h-1zM42 338h1v1h-1zM44 338h1v1h-1zM102 338h1v1h-1zM142 338h1v1h-1zM237 338h1v1h-1zM292 338h1v1h-1zM329 338h1v1h-1zM348 338h1v1h-1zM412 338h1v1h-1zM454 338h3v1h-3zM460 338h1v1h-1zM485 338h1v1h-1zM526 338h1v1h-1zM590 338h1v1h-1zM41 339h1v1h-1zM45 339h2v1h-2zM101 339h1v1h-1zM143 339h1v1h-1zM236 339h1v1h-1zM292 339h1v1h-1zM329 339h1v1h-1zM348 339h1v1h-1zM411 339h1v1h-1zM457 339h3v1h-3zM486 339h1v1h-1zM525 339h1v1h-1zM591 339h1v1h-1zM40 340h1v1h-1zM47 340h1v1h-1zM100 340h1v1h-1zM144 340h1v1h-1zM235 340h1v1h-1zM293 340h1v1h-1zM328 340h1v1h-1zM349 340h1v1h-1zM411 340h1v1h-1zM486 340h1v1h-1zM524 340h1v1h-1zM591 340h1v1h-1zM39 341h1v1h-1zM48 341h2v1h-2zM100 341h1v1h-1zM145 341h1v1h-1zM234 341h1v1h-1zM294 341h1v1h-1zM328 341h1v1h-1zM349 341h1v1h-1zM411 341h1v1h-1zM487 341h1v1h-1zM522 341h2v1h-2zM592 341h1v1h-1zM39 342h1v1h-1zM50 342h1v1h-1zM99 342h1v1h-1zM146 342h1v1h-1zM233 342h1v1h-1zM294 342h1v1h-1zM327 342h1v1h-1zM350 342h1v1h-1zM410 342h1v1h-1zM487 342h1v1h-1zM521 342h1v1h-1zM592 342h1v1h-1zM38 343h1v1h-1zM51 343h1v1h-1zM98 343h1v1h-1zM147 343h1v1h-1zM233 343h1v1h-1zM295 343h1v1h-1zM327 343h1v1h-1zM351 343h1v1h-1zM410 343h1v1h-1zM487 343h1v1h-1zM518 343h3v1h-3zM593 343h1v1h-1zM37 344h1v1h-1zM52 344h1v1h-1zM97 344h1v1h-1zM148 344h2v1h-2zM232 344h1v1h-1zM296 344h1v1h-1zM327 344h1v1h-1zM351 344h1v1h-1zM409 344h1v1h-1zM488 344h1v1h-1zM517 344h1v1h-1zM593 344h1v1h-1zM36 345h1v1h-1zM52 345h1v1h-1zM97 345h1v1h-1zM150 345h2v1h-2zM231 345h1v1h-1zM296 345h1v1h-1zM326 345h1v1h-1zM352 345h1v1h-1zM409 345h1v1h-1zM488 345h1v1h-1zM515 345h2v1h-2zM594 345h1v1h-1zM35 346h1v1h-1zM53 346h1v1h-1zM96 346h1v1h-1zM152 346h1v1h-1zM230 346h1v1h-1zM297 346h1v1h-1zM326 346h1v1h-1zM353 346h1v1h-1zM408 346h1v1h-1zM489 346h1v1h-1zM515 346h1v1h-1zM594 346h1v1h-1zM35 347h1v1h-1zM54 347h1v1h-1zM95 347h1v1h-1zM153 347h2v1h-2zM229 347h1v1h-1zM298 347h1v1h-1zM325 347h1v1h-1zM353 347h1v1h-1zM408 347h1v1h-1zM489 347h1v1h-1zM514 347h1v1h-1zM595 347h1v1h-1zM34 348h1v1h-1zM54 348h1v1h-1zM94 348h1v1h-1zM155 348h3v1h-3zM211 348h1v1h-1zM229 348h1v1h-1zM298 348h1v1h-1zM325 348h1v1h-1zM354 348h1v1h-1zM407 348h1v1h-1zM490 348h1v1h-1zM514 348h1v1h-1zM595 348h1v1h-1zM34 349h1v1h-1zM55 349h1v1h-1zM93 349h1v1h-1zM158 349h3v1h-3zM210 349h1v1h-1zM212 349h1v1h-1zM228 349h1v1h-1zM299 349h1v1h-1zM324 349h1v1h-1zM354 349h1v1h-1zM407 349h1v1h-1zM490 349h1v1h-1zM513 349h1v1h-1zM595 349h1v1h-1zM33 350h1v1h-1zM56 350h1v1h-1zM93 350h1v1h-1zM161 350h3v1h-3zM209 350h1v1h-1zM212 350h1v1h-1zM227 350h1v1h-1zM300 350h1v1h-1zM324 350h1v1h-1zM355 350h1v1h-1zM406 350h1v1h-1zM491 350h1v1h-1zM513 350h1v1h-1zM596 350h1v1h-1zM33 351h1v1h-1zM56 351h1v1h-1zM92 351h1v1h-1zM164 351h1v1h-1zM207 351h2v1h-2zM213 351h1v1h-1zM226 351h1v1h-1zM300 351h1v1h-1zM323 351h1v1h-1zM356 351h1v1h-1zM406 351h1v1h-1zM491 351h1v1h-1zM512 351h1v1h-1zM596 351h1v1h-1zM32 352h1v1h-1zM57 352h1v1h-1zM91 352h1v1h-1zM165 352h1v1h-1zM206 352h1v1h-1zM214 352h1v1h-1zM225 352h1v1h-1zM301 352h1v1h-1zM323 352h1v1h-1zM356 352h1v1h-1zM405 352h1v1h-1zM492 352h1v1h-1zM512 352h1v1h-1zM597 352h1v1h-1zM32 353h1v1h-1zM58 353h1v1h-1zM90 353h1v1h-1zM166 353h1v1h-1zM205 353h1v1h-1zM215 353h1v1h-1zM224 353h1v1h-1zM302 353h1v1h-1zM322 353h1v1h-1zM357 353h1v1h-1zM405 353h1v1h-1zM493 353h1v1h-1zM511 353h1v1h-1zM597 353h1v1h-1zM31 354h1v1h-1zM58 354h1v1h-1zM90 354h1v1h-1zM167 354h1v1h-1zM204 354h1v1h-1zM215 354h1v1h-1zM223 354h1v1h-1zM302 354h1v1h-1zM321 354h1v1h-1zM357 354h1v1h-1zM404 354h1v1h-1zM494 354h1v1h-1zM511 354h1v1h-1zM597 354h1v1h-1zM31 355h1v1h-1zM59 355h1v1h-1zM89 355h1v1h-1zM167 355h1v1h-1zM202 355h2v1h-2zM216 355h1v1h-1zM223 355h1v1h-1zM303 355h1v1h-1zM320 355h1v1h-1zM358 355h1v1h-1zM404 355h1v1h-1zM495 355h1v1h-1zM511 355h1v1h-1zM598 355h1v1h-1zM31 356h1v1h-1zM59 356h1v1h-1zM89 356h1v1h-1zM168 356h1v1h-1zM201 356h1v1h-1zM217 356h1v1h-1zM222 356h1v1h-1zM304 356h1v1h-1zM319 356h1v1h-1zM358 356h1v1h-1zM403 356h1v1h-1zM496 356h1v1h-1zM510 356h1v1h-1zM598 356h1v1h-1zM30 357h1v1h-1zM60 357h1v1h-1zM88 357h1v1h-1zM169 357h1v1h-1zM198 357h3v1h-3zM218 357h1v1h-1zM221 357h1v1h-1zM304 357h1v1h-1zM318 357h1v1h-1zM359 357h1v1h-1zM403 357h1v1h-1zM497 357h1v1h-1zM510 357h1v1h-1zM599 357h1v1h-1zM30 358h1v1h-1zM60 358h1v1h-1zM88 358h1v1h-1zM170 358h1v1h-1zM197 358h1v1h-1zM218 358h1v1h-1zM220 358h1v1h-1zM305 358h1v1h-1zM317 358h1v1h-1zM360 358h1v1h-1zM403 358h1v1h-1zM498 358h1v1h-1zM509 358h1v1h-1zM599 358h1v1h-1zM29 359h1v1h-1zM61 359h1v1h-1zM87 359h1v1h-1zM171 359h3v1h-3zM195 359h2v1h-2zM219 359h1v1h-1zM306 359h1v1h-1zM316 359h1v1h-1zM360 359h1v1h-1zM402 359h1v1h-1zM499 359h2v1h-2zM509 359h1v1h-1zM599 359h1v1h-1zM29 360h1v1h-1zM61 360h1v1h-1zM86 360h1v1h-1zM174 360h3v1h-3zM194 360h1v1h-1zM306 360h1v1h-1zM312 360h4v1h-4zM361 360h1v1h-1zM402 360h1v1h-1zM501 360h1v1h-1zM508 360h1v1h-1zM600 360h1v1h-1zM28 361h1v1h-1zM62 361h1v1h-1zM86 361h1v1h-1zM177 361h3v1h-3zM193 361h1v1h-1zM307 361h5v1h-5zM361 361h1v1h-1zM401 361h1v1h-1zM502 361h3v1h-3zM508 361h1v1h-1zM600 361h1v1h-1zM28 362h1v1h-1zM62 362h1v1h-1zM85 362h1v1h-1zM180 362h2v1h-2zM191 362h2v1h-2zM362 362h1v1h-1zM401 362h1v1h-1zM505 362h1v1h-1zM507 362h1v1h-1zM601 362h1v1h-1zM27 363h1v1h-1zM63 363h1v1h-1zM85 363h1v1h-1zM182 363h2v1h-2zM190 363h1v1h-1zM362 363h1v1h-1zM400 363h1v1h-1zM506 363h2v1h-2zM601 363h1v1h-1zM3 364h1v1h-1zM26 364h2v1h-2zM63 364h1v1h-1zM84 364h1v1h-1zM184 364h1v1h-1zM189 364h1v1h-1zM363 364h1v1h-1zM400 364h1v1h-1zM601 364h1v1h-1zM4 365h1v1h-1zM25 365h1v1h-1zM63 365h1v1h-1zM84 365h1v1h-1zM185 365h2v1h-2zM188 365h1v1h-1zM364 365h1v1h-1zM399 365h1v1h-1zM602 365h1v1h-1zM5 366h1v1h-1zM22 366h3v1h-3zM64 366h1v1h-1zM82 366h2v1h-2zM187 366h1v1h-1zM364 366h1v1h-1zM399 366h1v1h-1zM602 366h1v1h-1zM5 367h1v1h-1zM21 367h1v1h-1zM64 367h1v1h-1zM79 367h3v1h-3zM365 367h1v1h-1zM398 367h1v1h-1zM603 367h1v1h-1zM6 368h1v1h-1zM19 368h2v1h-2zM65 368h1v1h-1zM77 368h2v1h-2zM366 368h1v1h-1zM398 368h1v1h-1zM603 368h1v1h-1zM7 369h1v1h-1zM18 369h1v1h-1zM65 369h1v1h-1zM74 369h3v1h-3zM366 369h1v1h-1zM397 369h1v1h-1zM8 370h1v1h-1zM16 370h2v1h-2zM66 370h1v1h-1zM73 370h1v1h-1zM367 370h1v1h-1zM397 370h1v1h-1zM9 371h1v1h-1zM15 371h1v1h-1zM66 371h1v1h-1zM70 371h3v1h-3zM368 371h1v1h-1zM396 371h1v1h-1zM9 372h1v1h-1zM13 372h2v1h-2zM67 372h1v1h-1zM69 372h1v1h-1zM368 372h1v1h-1zM396 372h1v1h-1zM10 373h1v1h-1zM12 373h1v1h-1zM67 373h2v1h-2zM369 373h1v1h-1zM395 373h1v1h-1zM11 374h1v1h-1zM370 374h1v1h-1zM395 374h1v1h-1zM370 375h1v1h-1zM394 375h1v1h-1zM371 376h1v1h-1zM393 376h1v1h-1zM372 377h1v1h-1zM392 377h1v1h-1zM372 378h1v1h-1zM391 378h1v1h-1zM373 379h1v1h-1zM391 379h1v1h-1zM374 380h1v1h-1zM390 380h1v1h-1zM375 381h1v1h-1zM389 381h1v1h-1zM375 382h1v1h-1zM388 382h1v1h-1zM376 383h1v1h-1zM386 383h2v1h-2zM377 384h1v1h-1zM385 384h1v1h-1zM378 385h1v1h-1zM382 385h3v1h-3zM378 386h1v1h-1zM381 386h1v1h-1zM379 387h2v1h-2z" fill="#20b2aa"/>
<path d="M435 320h1v1h-1zM439 320h1v1h-1zM434 321h1v1h-1zM440 321h2v1h-2zM282 322h2v1h-2zM433 322h1v1h-1zM577 322h3v1h-3zM276 323h3v1h-3zM284 323h1v1h-1zM445 323h1v1h-1zM571 323h3v1h-3zM446 324h1v1h-1zM583 324h3v1h-3zM270 325h3v1h-3zM288 325h1v1h-1zM429 325h1v1h-1zM447 325h1v1h-1zM289 326h2v1h-2zM428 326h1v1h-1zM567 326h1v1h-1zM266 327h1v1h-1zM427 327h1v1h-1zM565 327h2v1h-2zM589 327h1v1h-1zM265 328h1v1h-1zM589 328h1v1h-1zM128 329h1v1h-1zM132 329h2v1h-2zM264 329h1v1h-1zM451 329h1v1h-1zM590 329h1v1h-1zM122 330h1v1h-1zM126 330h2v1h-2zM134 330h1v1h-1zM293 330h1v1h-1zM452 330h2v1h-2zM561 330h1v1h-1zM121 331h1v1h-1zM138 331h2v1h-2zM259 331h2v1h-2zM294 331h1v1h-1zM425 331h1v1h-1zM560 331h1v1h-1zM120 332h1v1h-1zM140 332h1v1h-1zM258 332h1v1h-1zM295 332h1v1h-1zM424 332h1v1h-1zM559 332h1v1h-1zM347 333h1v1h-1zM423 333h1v1h-1zM457 333h2v1h-2zM475 333h3v1h-3zM481 333h3v1h-3zM593 333h1v1h-1zM115 334h2v1h-2zM254 334h1v1h-1zM346 334h1v1h-1zM348 334h1v1h-1zM459 334h1v1h-1zM463 334h1v1h-1zM470 334h2v1h-2zM547 334h3v1h-3zM553 334h3v1h-3zM594 334h1v1h-1zM114 335h1v1h-1zM144 335h2v1h-2zM252 335h2v1h-2zM464 335h2v1h-2zM469 335h1v1h-1zM487 335h1v1h-1zM542 335h2v1h-2zM595 335h1v1h-1zM146 336h1v1h-1zM298 336h1v1h-1zM488 336h1v1h-1zM541 336h1v1h-1zM299 337h1v1h-1zM341 337h2v1h-2zM352 337h2v1h-2zM421 337h1v1h-1zM489 337h1v1h-1zM535 337h3v1h-3zM248 338h1v1h-1zM300 338h1v1h-1zM340 338h1v1h-1zM354 338h1v1h-1zM420 338h1v1h-1zM110 339h1v1h-1zM150 339h1v1h-1zM246 339h2v1h-2zM420 339h1v1h-1zM531 339h1v1h-1zM597 339h1v1h-1zM109 340h1v1h-1zM151 340h1v1h-1zM493 340h1v1h-1zM530 340h1v1h-1zM598 340h1v1h-1zM108 341h1v1h-1zM152 341h1v1h-1zM493 341h1v1h-1zM530 341h1v1h-1zM599 341h1v1h-1zM51 342h2v1h-2zM242 342h1v1h-1zM302 342h1v1h-1zM337 342h1v1h-1zM357 342h1v1h-1zM494 342h1v1h-1zM53 343h1v1h-1zM156 343h1v1h-1zM241 343h1v1h-1zM303 343h1v1h-1zM336 343h1v1h-1zM358 343h1v1h-1zM418 343h1v1h-1zM57 344h1v1h-1zM157 344h1v1h-1zM240 344h1v1h-1zM304 344h1v1h-1zM335 344h1v1h-1zM359 344h1v1h-1zM417 344h1v1h-1zM47 345h1v1h-1zM58 345h2v1h-2zM105 345h1v1h-1zM158 345h1v1h-1zM417 345h1v1h-1zM527 345h1v1h-1zM601 345h1v1h-1zM45 346h2v1h-2zM104 346h1v1h-1zM497 346h1v1h-1zM526 346h1v1h-1zM602 346h1v1h-1zM103 347h1v1h-1zM162 347h2v1h-2zM498 347h1v1h-1zM525 347h1v1h-1zM602 347h1v1h-1zM164 348h1v1h-1zM236 348h1v1h-1zM306 348h1v1h-1zM332 348h1v1h-1zM362 348h1v1h-1zM499 348h1v1h-1zM62 349h1v1h-1zM234 349h2v1h-2zM307 349h1v1h-1zM331 349h1v1h-1zM362 349h1v1h-1zM415 349h1v1h-1zM41 350h1v1h-1zM62 350h1v1h-1zM308 350h1v1h-1zM330 350h1v1h-1zM363 350h1v1h-1zM414 350h1v1h-1zM40 351h1v1h-1zM63 351h1v1h-1zM100 351h1v1h-1zM168 351h2v1h-2zM230 351h1v1h-1zM414 351h1v1h-1zM522 351h1v1h-1zM39 352h1v1h-1zM99 352h1v1h-1zM170 352h1v1h-1zM229 352h1v1h-1zM503 352h1v1h-1zM520 352h2v1h-2zM98 353h1v1h-1zM224 353h1v1h-1zM228 353h1v1h-1zM503 353h1v1h-1zM3 354h1v1h-1zM216 354h3v1h-3zM222 354h2v1h-2zM312 354h1v1h-1zM326 354h1v1h-1zM365 354h1v1h-1zM504 354h1v1h-1zM4 355h1v1h-1zM66 355h1v1h-1zM174 355h3v1h-3zM211 355h2v1h-2zM313 355h1v1h-1zM325 355h1v1h-1zM366 355h1v1h-1zM412 355h1v1h-1zM516 355h1v1h-1zM5 356h1v1h-1zM36 356h1v1h-1zM66 356h1v1h-1zM210 356h1v1h-1zM314 356h1v1h-1zM324 356h1v1h-1zM366 356h1v1h-1zM411 356h1v1h-1zM514 356h2v1h-2zM35 357h1v1h-1zM67 357h1v1h-1zM95 357h1v1h-1zM318 357h3v1h-3zM411 357h1v1h-1zM508 357h3v1h-3zM34 358h1v1h-1zM95 358h1v1h-1zM180 358h2v1h-2zM206 358h1v1h-1zM94 359h1v1h-1zM182 359h1v1h-1zM204 359h2v1h-2zM8 360h1v1h-1zM369 360h1v1h-1zM9 361h1v1h-1zM71 361h1v1h-1zM186 361h1v1h-1zM198 361h3v1h-3zM369 361h1v1h-1zM409 361h1v1h-1zM9 362h1v1h-1zM31 362h1v1h-1zM72 362h1v1h-1zM187 362h2v1h-2zM192 362h3v1h-3zM370 362h1v1h-1zM408 362h1v1h-1zM31 363h1v1h-1zM73 363h1v1h-1zM91 363h1v1h-1zM407 363h1v1h-1zM30 364h1v1h-1zM90 364h1v1h-1zM13 365h1v1h-1zM89 365h1v1h-1zM14 366h2v1h-2zM77 366h1v1h-1zM372 366h1v1h-1zM78 367h2v1h-2zM373 367h1v1h-1zM405 367h1v1h-1zM19 368h3v1h-3zM25 368h3v1h-3zM85 368h1v1h-1zM374 368h1v1h-1zM404 368h1v1h-1zM84 369h1v1h-1zM404 369h1v1h-1zM83 370h1v1h-1zM377 372h1v1h-1zM378 373h1v1h-1zM401 373h1v1h-1zM378 374h1v1h-1zM400 374h1v1h-1zM399 375h1v1h-1zM382 377h1v1h-1zM383 378h1v1h-1zM384 379h1v1h-1zM396 379h1v1h-1zM394 380h2v1h-2zM388 381h3v1h-3z" fill="#ff0000"/>
<path d="M3 438h1V459h-1zM11 445h1V459h-1zM19 450h1V459h-1zM27 451h1V459h-1zM35 452h1V459h-1zM43 451h1V459h-1zM51 454h1V459h-1zM59 457h1V459h-1zM115 457h1V459h-1zM123 451h1V459h-1zM131 448h1V459h-1zM139 448h1V459h-1zM147 446h1V459h-1zM155 447h1V459h-1zM163 450h1V459h-1zM171 454h1V459h-1zM179 456h1V459h-1zM259 456h1V459h-1zM267 449h1V459h-1zM275 443h1V459h-1zM283 441h1V459h-1zM291 445h1V459h-1zM299 448h1V459h-1zM307 452h1V459h-1zM315 455h1V459h-1zM323 456h1V459h-1zM331 452h1V459h-1zM339 453h1V459h-1zM347 456h1V459h-1zM427 457h1V459h-1zM435 453h1V459h-1zM443 453h1V459h-1zM451 452h1V459h-1zM459 452h1V459h-1zM467 448h1V459h-1zM475 447h1V459h-1zM483 449h1V459h-1zM491 455h1V459h-1zM499 457h1V459h-1zM515 457h1V459h-1zM523 457h1V459h-1zM531 456h1V459h-1zM539 456h1V459h-1zM547 455h1V459h-1zM555 452h1V459h-1zM563 450h1V459h-1zM571 451h1V459h-1zM579 453h1V459h-1zM587 454h1V459h-1z" fill="#008000"/>
<path d="M67 458h1V460h-1zM75 458h1V461h-1zM83 458h1V461h-1zM91 458h1V463h-1zM99 458h1V462h-1zM187 458h1V461h-1zM195 458h1V463h-1zM203 458h1V464h-1zM211 458h1V467h-1zM219 458h1V468h-1zM227 458h1V466h-1zM235 458h1V463h-1zM243 458h1V463h-1zM355 458h1V460h-1zM363 458h1V463h-1zM371 458h1V467h-1zM379 458h1V470h-1zM387 458h1V473h-1zM395 458h1V474h-1zM403 458h1V472h-1zM411 458h1V469h-1zM419 458h1V464h-1zM603 458h1V466h-1z" fill="#ff0000"/>
<path d="M569 400h5v1h-5zM585 400h4v1h-4zM566 401h3v1h-3zM574 401h3v1h-3zM582 401h3v1h-3zM589 401h1v1h-1zM561 402h5v1h-5zM577 402h5v1h-5zM590 402h3v1h-3zM558 403h3v1h-3zM593 403h1v1h-1zM554 404h4v1h-4zM594 404h2v1h-2zM553 405h1v1h-1zM596 405h1v1h-1zM336 406h6v1h-6zM550 406h3v1h-3zM597 406h1v1h-1zM331 407h5v1h-5zM342 407h3v1h-3zM549 407h1v1h-1zM598 407h1v1h-1zM330 408h1v1h-1zM345 408h4v1h-4zM544 408h5v1h-5zM599 408h1v1h-1zM328 409h2v1h-2zM349 409h1v1h-1zM480 409h5v1h-5zM536 409h8v1h-8zM600 409h1v1h-1zM327 410h1v1h-1zM350 410h3v1h-3zM474 410h6v1h-6zM485 410h1v1h-1zM529 410h7v1h-7zM601 410h1v1h-1zM282 411h6v1h-6zM325 411h2v1h-2zM353 411h1v1h-1zM473 411h1v1h-1zM486 411h3v1h-3zM526 411h3v1h-3zM602 411h1v1h-1zM279 412h3v1h-3zM288 412h14v1h-14zM324 412h1v1h-1zM354 412h3v1h-3zM470 412h3v1h-3zM489 412h1v1h-1zM520 412h6v1h-6zM603 412h1v1h-1zM277 413h2v1h-2zM302 413h3v1h-3zM321 413h3v1h-3zM357 413h2v1h-2zM469 413h1v1h-1zM490 413h4v1h-4zM514 413h6v1h-6zM275 414h2v1h-2zM305 414h7v1h-7zM318 414h3v1h-3zM359 414h3v1h-3zM467 414h2v1h-2zM494 414h3v1h-3zM511 414h3v1h-3zM274 415h1v1h-1zM312 415h6v1h-6zM362 415h2v1h-2zM465 415h2v1h-2zM497 415h7v1h-7zM509 415h2v1h-2zM273 416h1v1h-1zM364 416h2v1h-2zM464 416h1v1h-1zM504 416h5v1h-5zM272 417h1v1h-1zM366 417h2v1h-2zM462 417h2v1h-2zM271 418h1v1h-1zM368 418h1v1h-1zM460 418h2v1h-2zM270 419h1v1h-1zM369 419h2v1h-2zM457 419h3v1h-3zM269 420h1v1h-1zM371 420h1v1h-1zM454 420h3v1h-3zM152 421h8v1h-8zM268 421h1v1h-1zM372 421h2v1h-2zM448 421h6v1h-6zM146 422h6v1h-6zM160 422h6v1h-6zM267 422h1v1h-1zM374 422h2v1h-2zM434 422h14v1h-14zM145 423h1v1h-1zM166 423h3v1h-3zM266 423h1v1h-1zM376 423h1v1h-1zM433 423h1v1h-1zM142 424h3v1h-3zM169 424h7v1h-7zM265 424h1v1h-1zM377 424h2v1h-2zM430 424h3v1h-3zM141 425h1v1h-1zM176 425h5v1h-5zM264 425h1v1h-1zM379 425h2v1h-2zM429 425h1v1h-1zM138 426h3v1h-3zM181 426h1v1h-1zM263 426h1v1h-1zM381 426h1v1h-1zM426 426h3v1h-3zM137 427h1v1h-1zM182 427h3v1h-3zM263 427h1v1h-1zM382 427h3v1h-3zM425 427h1v1h-1zM134 428h3v1h-3zM185 428h1v1h-1zM262 428h1v1h-1zM385 428h1v1h-1zM422 428h3v1h-3zM133 429h1v1h-1zM186 429h12v1h-12zM261 429h1v1h-1zM386 429h3v1h-3zM421 429h1v1h-1zM129 430h4v1h-4zM198 430h3v1h-3zM260 430h1v1h-1zM389 430h2v1h-2zM418 430h3v1h-3zM126 431h3v1h-3zM201 431h4v1h-4zM257 431h3v1h-3zM391 431h3v1h-3zM415 431h3v1h-3zM123 432h3v1h-3zM205 432h2v1h-2zM254 432h3v1h-3zM394 432h4v1h-4zM413 432h2v1h-2zM122 433h1v1h-1zM207 433h3v1h-3zM251 433h3v1h-3zM398 433h3v1h-3zM408 433h5v1h-5zM120 434h2v1h-2zM210 434h3v1h-3zM249 434h2v1h-2zM401 434h7v1h-7zM42 435h4v1h-4zM119 435h1v1h-1zM213 435h1v1h-1zM226 435h6v1h-6zM248 435h1v1h-1zM39 436h3v1h-3zM46 436h3v1h-3zM117 436h2v1h-2zM214 436h3v1h-3zM223 436h3v1h-3zM232 436h6v1h-6zM246 436h2v1h-2zM37 437h2v1h-2zM49 437h5v1h-5zM116 437h1v1h-1zM217 437h1v1h-1zM221 437h2v1h-2zM238 437h3v1h-3zM244 437h2v1h-2zM33 438h4v1h-4zM54 438h3v1h-3zM114 438h2v1h-2zM218 438h3v1h-3zM241 438h3v1h-3zM30 439h3v1h-3zM57 439h5v1h-5zM111 439h3v1h-3zM26 440h4v1h-4zM62 440h3v1h-3zM109 440h2v1h-2zM23 441h3v1h-3zM65 441h7v1h-7zM106 441h3v1h-3zM21 442h2v1h-2zM72 442h8v1h-8zM103 442h3v1h-3zM3 443h18v1h-18zM80 443h6v1h-6zM101 443h2v1h-2zM86 444h3v1h-3zM96 444h5v1h-5zM89 445h7v1h-7z" fill="#00ffff"/>
<path d="M592 404h2v1h-2zM597 404h3v1h-3zM603 404h1v1h-1zM585 405h3v1h-3zM591 405h1v1h-1zM579 407h3v1h-3zM569 408h1v1h-1zM573 408h3v1h-3zM567 409h2v1h-2zM561 410h3v1h-3zM345 411h3v1h-3zM351 411h1v1h-1zM555 411h3v1h-3zM339 412h3v1h-3zM352 412h2v1h-2zM357 412h3v1h-3zM363 412h3v1h-3zM369 412h3v1h-3zM375 412h1v1h-1zM537 412h3v1h-3zM543 412h3v1h-3zM549 412h3v1h-3zM334 413h2v1h-2zM376 413h2v1h-2zM381 413h1v1h-1zM531 413h3v1h-3zM329 414h1v1h-1zM333 414h1v1h-1zM382 414h2v1h-2zM520 414h2v1h-2zM525 414h3v1h-3zM327 415h2v1h-2zM387 415h3v1h-3zM513 415h3v1h-3zM519 415h1v1h-1zM321 416h3v1h-3zM393 417h3v1h-3zM496 417h2v1h-2zM501 417h3v1h-3zM507 417h3v1h-3zM315 418h3v1h-3zM489 418h3v1h-3zM495 418h1v1h-1zM310 419h2v1h-2zM399 419h3v1h-3zM309 420h1v1h-1zM405 420h1v1h-1zM483 420h3v1h-3zM303 421h3v1h-3zM406 421h2v1h-2zM411 422h2v1h-2zM478 422h2v1h-2zM298 423h2v1h-2zM413 423h1v1h-1zM477 423h1v1h-1zM297 424h1v1h-1zM473 424h1v1h-1zM195 425h3v1h-3zM201 425h3v1h-3zM207 425h1v1h-1zM293 425h1v1h-1zM417 425h1v1h-1zM471 425h2v1h-2zM184 426h2v1h-2zM189 426h3v1h-3zM208 426h2v1h-2zM213 426h1v1h-1zM291 426h2v1h-2zM418 426h2v1h-2zM423 426h1v1h-1zM465 426h3v1h-3zM177 427h3v1h-3zM183 427h1v1h-1zM214 427h2v1h-2zM287 427h1v1h-1zM424 427h2v1h-2zM429 427h3v1h-3zM459 427h3v1h-3zM171 428h3v1h-3zM219 428h3v1h-3zM285 428h2v1h-2zM435 428h3v1h-3zM441 428h3v1h-3zM447 428h3v1h-3zM453 428h3v1h-3zM225 429h3v1h-3zM281 429h1v1h-1zM166 430h2v1h-2zM231 430h2v1h-2zM279 430h2v1h-2zM165 431h1v1h-1zM233 431h1v1h-1zM237 431h3v1h-3zM273 431h3v1h-3zM161 432h1v1h-1zM243 432h3v1h-3zM159 433h2v1h-2zM249 433h3v1h-3zM255 433h1v1h-1zM267 433h3v1h-3zM153 434h3v1h-3zM256 434h2v1h-2zM261 434h3v1h-3zM147 436h3v1h-3zM142 437h2v1h-2zM137 438h1v1h-1zM141 438h1v1h-1zM135 439h2v1h-2zM57 440h3v1h-3zM63 440h3v1h-3zM69 440h3v1h-3zM75 440h3v1h-3zM81 440h3v1h-3zM87 440h3v1h-3zM93 440h3v1h-3zM99 440h3v1h-3zM105 440h3v1h-3zM111 440h3v1h-3zM117 440h3v1h-3zM123 440h3v1h-3zM129 440h3v1h-3zM51 441h3v1h-3zM46 442h2v1h-2zM45 443h1v1h-1zM39 444h3v1h-3zM34 446h2v1h-2zM33 447h1v1h-1zM29 448h1v1h-1zM27 449h2v1h-2zM22 452h2v1h-2zM21 453h1v1h-1zM17 455h1v1h-1zM15 456h2v1h-2zM10 458h2v1h-2zM9 459h1v1h-1zM5 461h1v1h-1zM3 462h2v1h-2z" fill="#ff0000"/>
<path d="M2.5 2.5H775.5V242.5H2.5Z" fill="none" stroke="#000" stroke-width="1"/>
<path d="M2.5 244.5H775.5V310.5H2.5Z" fill="none" stroke="#000" stroke-width="1"/>
<path d="M2.5 312.5H775.5V393.5H2.5Z" fill="none" stroke="#000" stroke-width="1"/>
<path d="M2.5 395.5H775.5V477.5H2.5Z" fill="none" stroke="#000" stroke-width="1"/>
<path d="M776 16h2v1h-2zM776 48h2v1h-2zM776 80h2v1h-2zM776 112h2v1h-2zM776 144h2v1h-2zM776 176h2v1h-2zM776 208h2v1h-2zM776 240h2v1h-2zM776 246h1v1h-1zM776 309h1v1h-1zM776 314h1v1h-1zM776 392h1v1h-1zM776 397h1v1h-1zM776 458h1v1h-1zM776 476h1v1h-1zM3 478h1v3h-1zM67 478h1v3h-1zM131 478h1v3h-1zM195 478h1v3h-1zM259 478h1v3h-1zM323 478h1v3h-1zM387 478h1v3h-1zM451 478h1v3h-1zM515 478h1v3h-1zM579 478h1v3h-1z" fill="#000"/>
<rect x="778" y="54" width="34" height="11" fill="#000"/>
<rect x="778" y="70" width="34" height="11" fill="#c71585"/>
</g>
<defs><filter id="th" x="0" y="0" width="813" height="494" filterUnits="userSpaceOnUse" color-interpolation-filters="sRGB"><feComponentTransfer><feFuncA type="gamma" amplitude="1" exponent="0.75" offset="0"/></feComponentTransfer></filter></defs>
<g filter="url(#th)"><text transform="translate(6.4,14) skewX(0.4)" xml:space="preserve" textLength="50.9" lengthAdjust="spacingAndGlyphs">USDJPY,H1</text></g><g filter="url(#th)"><text transform="translate(63.7,14) skewX(0.4)" xml:space="preserve" textLength="27.5" lengthAdjust="spacingAndGlyphs">91.958</text></g><g filter="url(#th)"><text transform="translate(94.5,14) skewX(0.4)" xml:space="preserve" textLength="27.5" lengthAdjust="spacingAndGlyphs">92.004</text></g><g filter="url(#th)"><text transform="translate(125.6,14) skewX(0.4)" xml:space="preserve" textLength="27.3" lengthAdjust="spacingAndGlyphs">91.785</text></g><g filter="url(#th)"><text transform="translate(156.4,14) skewX(0.4)" xml:space="preserve" textLength="26.9" lengthAdjust="spacingAndGlyphs">91.831</text></g><g filter="url(#th)"><text transform="translate(610.3,15) skewX(0.4)" xml:space="preserve" textLength="68.0" lengthAdjust="spacingAndGlyphs">fxisbest_ea_beta</text></g><g filter="url(#th)"><text transform="translate(681.4,15) skewX(0.4)" xml:space="preserve" textLength="74.7" lengthAdjust="spacingAndGlyphs">V1.51_289811492</text></g><g filter="url(#th)"><text transform="translate(6.5,258) skewX(0.4)" xml:space="preserve" textLength="31.5" lengthAdjust="spacingAndGlyphs">RSI(14)</text></g><g filter="url(#th)"><text transform="translate(41.0,258) skewX(0.4)" xml:space="preserve" textLength="33.6" lengthAdjust="spacingAndGlyphs">52.2104</text></g><g filter="url(#th)"><text transform="translate(80.6,258) skewX(0.4)" xml:space="preserve" textLength="41.1" lengthAdjust="spacingAndGlyphs">-&gt;MA(10)</text></g><g filter="url(#th)"><text transform="translate(124.6,258) skewX(0.4)" xml:space="preserve" textLength="33.2" lengthAdjust="spacingAndGlyphs">65.8407</text></g><g filter="url(#th)"><text transform="translate(6.0,326) skewX(0.4)" xml:space="preserve" textLength="49.8" lengthAdjust="spacingAndGlyphs">Stoch(5,3,3)</text></g><g filter="url(#th)"><text transform="translate(58.8,326) skewX(0.4)" xml:space="preserve" textLength="33.5" lengthAdjust="spacingAndGlyphs">31.4775</text></g><g filter="url(#th)"><text transform="translate(94.9,326) skewX(0.4)" xml:space="preserve" textLength="33.4" lengthAdjust="spacingAndGlyphs">55.2250</text></g><g filter="url(#th)"><text transform="translate(6.5,409) skewX(0.4)" xml:space="preserve" textLength="66.6" lengthAdjust="spacingAndGlyphs">MACD(12,26,9)</text></g><g filter="url(#th)"><text transform="translate(75.8,409) skewX(0.4)" xml:space="preserve" textLength="28.1" lengthAdjust="spacingAndGlyphs">0.1414</text></g><g filter="url(#th)"><text transform="translate(106.6,409) skewX(0.4)" xml:space="preserve" textLength="27.5" lengthAdjust="spacingAndGlyphs">0.1636</text></g><g filter="url(#th)"><text transform="translate(137.3,409) skewX(0.4)" xml:space="preserve" textLength="27.6" lengthAdjust="spacingAndGlyphs">0.0000</text></g><g filter="url(#th)"><text transform="translate(167.8,409) skewX(0.4)" xml:space="preserve" textLength="31.9" lengthAdjust="spacingAndGlyphs">-0.0222</text></g><g filter="url(#th)"><text transform="translate(5.5,472) skewX(0.4)" xml:space="preserve" textLength="50.4" lengthAdjust="spacingAndGlyphs">MetaTrader</text></g><g filter="url(#th)"><text transform="translate(59.9,472) skewX(0.4)" xml:space="preserve" textLength="4.3" lengthAdjust="spacingAndGlyphs">-</text></g><g filter="url(#th)"><text transform="translate(66.7,472) skewX(0.4)" xml:space="preserve" textLength="25.5" lengthAdjust="spacingAndGlyphs">Alpari</text></g><g filter="url(#th)"><text transform="translate(95.3,472) skewX(0.4)" xml:space="preserve" textLength="15.5" lengthAdjust="spacingAndGlyphs">UK,</text></g><g filter="url(#th)"><text transform="translate(114.7,472) skewX(0.4)" xml:space="preserve" textLength="4.8" lengthAdjust="spacingAndGlyphs">?</text></g><g filter="url(#th)"><text transform="translate(122.6,472) skewX(0.4)" xml:space="preserve" textLength="44.9" lengthAdjust="spacingAndGlyphs">2001-2009</text></g><g filter="url(#th)"><text transform="translate(169.7,472) skewX(0.4)" xml:space="preserve" textLength="53.1" lengthAdjust="spacingAndGlyphs">MetaQuotes</text></g><g filter="url(#th)"><text transform="translate(226.0,472) skewX(0.4)" xml:space="preserve" textLength="39.8" lengthAdjust="spacingAndGlyphs">Software</text></g><g filter="url(#th)"><text transform="translate(269.3,472) skewX(0.4)" xml:space="preserve" textLength="24.2" lengthAdjust="spacingAndGlyphs">Corp.</text></g><g filter="url(#th)"><text transform="translate(781,19) skewX(0.4)" xml:space="preserve" textLength="27.5" lengthAdjust="spacingAndGlyphs">92.170</text></g><g filter="url(#th)"><text transform="translate(781,51) skewX(0.4)" xml:space="preserve" textLength="27.5" lengthAdjust="spacingAndGlyphs">91.925</text></g><g filter="url(#th)"><text transform="translate(781,83) skewX(0.4)" xml:space="preserve" textLength="27.5" lengthAdjust="spacingAndGlyphs">91.675</text></g><g filter="url(#th)"><text transform="translate(781,115) skewX(0.4)" xml:space="preserve" textLength="27.5" lengthAdjust="spacingAndGlyphs">91.430</text></g><g filter="url(#th)"><text transform="translate(781,147) skewX(0.4)" xml:space="preserve" textLength="27.5" lengthAdjust="spacingAndGlyphs">91.180</text></g><g filter="url(#th)"><text transform="translate(781,179) skewX(0.4)" xml:space="preserve" textLength="27.5" lengthAdjust="spacingAndGlyphs">90.935</text></g><g filter="url(#th)"><text transform="translate(781,211) skewX(0.4)" xml:space="preserve" textLength="27.5" lengthAdjust="spacingAndGlyphs">90.690</text></g><g filter="url(#th)"><text transform="translate(781,243) skewX(0.4)" xml:space="preserve" textLength="27.5" lengthAdjust="spacingAndGlyphs">90.440</text></g><g filter="url(#th)"><text transform="translate(779.5,255) skewX(0.4)" xml:space="preserve" textLength="14" lengthAdjust="spacingAndGlyphs">100</text></g><g filter="url(#th)"><text transform="translate(779,307) skewX(0.4)" xml:space="preserve" textLength="4.5" lengthAdjust="spacingAndGlyphs">0</text></g><g filter="url(#th)"><text transform="translate(779.5,323) skewX(0.4)" xml:space="preserve" textLength="14" lengthAdjust="spacingAndGlyphs">100</text></g><g filter="url(#th)"><text transform="translate(778,332) skewX(0.4)" xml:space="preserve" textLength="9.5" lengthAdjust="spacingAndGlyphs">80</text></g><g filter="url(#th)"><text transform="translate(778,380) skewX(0.4)" xml:space="preserve" textLength="9.5" lengthAdjust="spacingAndGlyphs">20</text></g><g filter="url(#th)"><text transform="translate(779,390) skewX(0.4)" xml:space="preserve" textLength="4.5" lengthAdjust="spacingAndGlyphs">0</text></g><g filter="url(#th)"><text transform="translate(779,406) skewX(0.4)" xml:space="preserve" textLength="27.5" lengthAdjust="spacingAndGlyphs">0.1877</text></g><g filter="url(#th)"><text transform="translate(779,461) skewX(0.4)" xml:space="preserve" textLength="17.5" lengthAdjust="spacingAndGlyphs">0.00</text></g><g filter="url(#th)"><text transform="translate(779,474) skewX(0.4)" xml:space="preserve" textLength="30.5" lengthAdjust="spacingAndGlyphs">-0.0571</text></g><g filter="url(#th)"><text transform="translate(2,490) skewX(0.4)" xml:space="preserve" textLength="50.5" lengthAdjust="spacingAndGlyphs">20 Oct 2009</text></g><g filter="url(#th)"><text transform="translate(66,490) skewX(0.4)" xml:space="preserve" textLength="54" lengthAdjust="spacingAndGlyphs">21 Oct 06:00</text></g><g filter="url(#th)"><text transform="translate(130,490) skewX(0.4)" xml:space="preserve" textLength="54" lengthAdjust="spacingAndGlyphs">21 Oct 14:00</text></g><g filter="url(#th)"><text transform="translate(194,490) skewX(0.4)" xml:space="preserve" textLength="54" lengthAdjust="spacingAndGlyphs">21 Oct 22:00</text></g><g filter="url(#th)"><text transform="translate(258,490) skewX(0.4)" xml:space="preserve" textLength="54" lengthAdjust="spacingAndGlyphs">22 Oct 06:00</text></g><g filter="url(#th)"><text transform="translate(322,490) skewX(0.4)" xml:space="preserve" textLength="54" lengthAdjust="spacingAndGlyphs">22 Oct 14:00</text></g><g filter="url(#th)"><text transform="translate(386,490) skewX(0.4)" xml:space="preserve" textLength="54" lengthAdjust="spacingAndGlyphs">22 Oct 22:00</text></g><g filter="url(#th)"><text transform="translate(450,490) skewX(0.4)" xml:space="preserve" textLength="54" lengthAdjust="spacingAndGlyphs">23 Oct 06:00</text></g><g filter="url(#th)"><text transform="translate(514,490) skewX(0.4)" xml:space="preserve" textLength="54" lengthAdjust="spacingAndGlyphs">23 Oct 14:00</text></g><g filter="url(#th)"><text transform="translate(578,490) skewX(0.4)" xml:space="preserve" textLength="54" lengthAdjust="spacingAndGlyphs">23 Oct 22:00</text></g>
<g shape-rendering="crispEdges"><rect x="778" y="54" width="34" height="11" fill="#000"/><rect x="778" y="70" width="34" height="11" fill="#c71585"/></g>
<g filter="url(#th)"><text transform="translate(781,63) skewX(0.4)" xml:space="preserve" textLength="27.5" lengthAdjust="spacingAndGlyphs" style="fill:#fff">91.831</text></g><g filter="url(#th)"><text transform="translate(781,79) skewX(0.4)" xml:space="preserve" textLength="27.5" lengthAdjust="spacingAndGlyphs" style="fill:#fff">91.708</text></g>
<path d="M764 10h1v1h-1zM765 10h1v1h-1zM766 10h1v1h-1zM768 10h1v1h-1zM769 10h1v1h-1zM765 11h1v1h-1zM766 11h1v1h-1zM767 11h1v1h-1zM768 11h1v1h-1zM766 12h1v1h-1zM767 12h1v1h-1zM765 13h1v1h-1zM766 13h1v1h-1zM767 13h1v1h-1zM768 13h1v1h-1zM763 14h1v1h-1zM764 14h1v1h-1zM765 14h1v1h-1zM767 14h1v1h-1zM768 14h1v1h-1zM769 14h1v1h-1z" fill="#000" shape-rendering="crispEdges"/>
</svg></body></html>
